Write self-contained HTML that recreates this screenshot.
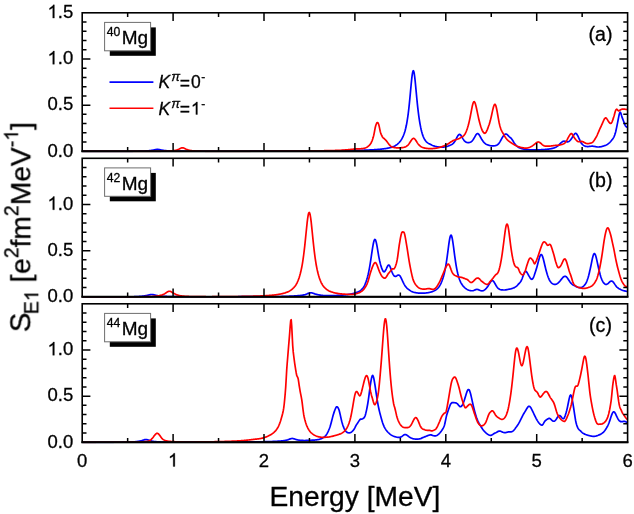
<!DOCTYPE html>
<html><head><meta charset="utf-8"><title>S_E1 strength</title>
<style>html,body{margin:0;padding:0;background:#fff;}body{width:634px;height:514px;overflow:hidden;position:relative;font-family:"Liberation Sans",sans-serif;}</style>
</head><body>
<svg width="634" height="514" viewBox="0 0 634 514" style="position:absolute;left:0;top:0">
<rect width="634" height="514" fill="#fff"/>
<clipPath id="cpa"><rect x="82.2" y="12.8" width="545.4" height="139.5"/></clipPath>
<g clip-path="url(#cpa)" fill="none" stroke-width="1.7" stroke-linejoin="round">
<path d="M82.2,151.30 L82.7,151.30 L83.2,151.30 L83.7,151.30 L84.2,151.30 L84.7,151.30 L85.2,151.30 L85.7,151.30 L86.2,151.30 L86.7,151.30 L87.2,151.30 L87.7,151.30 L88.2,151.30 L88.7,151.30 L89.2,151.30 L89.7,151.30 L90.2,151.30 L90.7,151.30 L91.2,151.30 L91.7,151.30 L92.2,151.30 L92.7,151.30 L93.2,151.30 L93.7,151.30 L94.2,151.30 L94.7,151.30 L95.2,151.30 L95.7,151.30 L96.2,151.30 L96.7,151.30 L97.2,151.30 L97.7,151.30 L98.2,151.30 L98.7,151.30 L99.2,151.30 L99.7,151.30 L100.2,151.30 L100.7,151.30 L101.2,151.30 L101.7,151.30 L102.2,151.30 L102.7,151.30 L103.2,151.30 L103.7,151.30 L104.2,151.30 L104.7,151.30 L105.2,151.30 L105.7,151.30 L106.2,151.30 L106.7,151.30 L107.2,151.30 L107.7,151.30 L108.2,151.30 L108.7,151.30 L109.2,151.30 L109.7,151.30 L110.2,151.30 L110.7,151.30 L111.2,151.30 L111.7,151.30 L112.2,151.30 L112.7,151.30 L113.2,151.30 L113.7,151.30 L114.2,151.30 L114.7,151.30 L115.2,151.30 L115.7,151.30 L116.2,151.30 L116.7,151.30 L117.2,151.30 L117.7,151.30 L118.2,151.30 L118.7,151.30 L119.2,151.30 L119.7,151.30 L120.2,151.30 L120.7,151.30 L121.2,151.30 L121.7,151.30 L122.2,151.30 L122.7,151.30 L123.2,151.30 L123.7,151.30 L124.2,151.30 L124.7,151.30 L125.2,151.30 L125.7,151.30 L126.2,151.30 L126.7,151.30 L127.2,151.30 L127.7,151.30 L128.2,151.30 L128.7,151.30 L129.2,151.30 L129.7,151.29 L130.2,151.29 L130.7,151.29 L131.2,151.29 L131.7,151.28 L132.2,151.28 L132.7,151.28 L133.2,151.27 L133.7,151.27 L134.2,151.27 L134.7,151.26 L135.2,151.26 L135.7,151.25 L136.2,151.25 L136.7,151.24 L137.2,151.24 L137.7,151.23 L138.2,151.23 L138.7,151.22 L139.2,151.21 L139.7,151.20 L140.2,151.20 L140.7,151.19 L141.2,151.17 L141.7,151.16 L142.2,151.14 L142.7,151.12 L143.2,151.10 L143.7,151.07 L144.2,151.05 L144.7,151.02 L145.2,150.99 L145.7,150.96 L146.2,150.93 L146.7,150.89 L147.2,150.86 L147.7,150.82 L148.2,150.78 L148.7,150.73 L149.2,150.68 L149.7,150.63 L150.2,150.58 L150.7,150.52 L151.2,150.45 L151.7,150.38 L152.2,150.29 L152.7,150.21 L153.2,150.11 L153.7,150.00 L154.2,149.90 L154.7,149.79 L155.2,149.68 L155.7,149.58 L156.2,149.49 L156.7,149.43 L157.2,149.40 L157.7,149.40 L158.2,149.43 L158.7,149.48 L159.2,149.57 L159.7,149.66 L160.2,149.77 L160.7,149.88 L161.2,149.99 L161.7,150.10 L162.2,150.19 L162.7,150.29 L163.2,150.37 L163.7,150.44 L164.2,150.51 L164.7,150.57 L165.2,150.62 L165.7,150.67 L166.2,150.72 L166.7,150.76 L167.2,150.79 L167.7,150.83 L168.2,150.86 L168.7,150.89 L169.2,150.91 L169.7,150.94 L170.2,150.96 L170.7,150.98 L171.2,151.00 L171.7,151.02 L172.2,151.04 L172.7,151.06 L173.2,151.07 L173.7,151.09 L174.2,151.10 L174.7,151.11 L175.2,151.12 L175.7,151.14 L176.2,151.15 L176.7,151.16 L177.2,151.16 L177.7,151.17 L178.2,151.18 L178.7,151.19 L179.2,151.19 L179.7,151.20 L180.2,151.20 L180.7,151.21 L181.2,151.21 L181.7,151.21 L182.2,151.21 L182.7,151.22 L183.2,151.22 L183.7,151.22 L184.2,151.23 L184.7,151.23 L185.2,151.23 L185.7,151.23 L186.2,151.23 L186.7,151.24 L187.2,151.24 L187.7,151.24 L188.2,151.24 L188.7,151.24 L189.2,151.24 L189.7,151.24 L190.2,151.24 L190.7,151.25 L191.2,151.25 L191.7,151.25 L192.2,151.25 L192.7,151.25 L193.2,151.25 L193.7,151.25 L194.2,151.25 L194.7,151.25 L195.2,151.25 L195.7,151.25 L196.2,151.25 L196.7,151.26 L197.2,151.26 L197.7,151.26 L198.2,151.26 L198.7,151.26 L199.2,151.26 L199.7,151.26 L200.2,151.26 L200.7,151.26 L201.2,151.26 L201.7,151.26 L202.2,151.26 L202.7,151.26 L203.2,151.26 L203.7,151.26 L204.2,151.26 L204.7,151.26 L205.2,151.26 L205.7,151.26 L206.2,151.26 L206.7,151.26 L207.2,151.26 L207.7,151.26 L208.2,151.26 L208.7,151.26 L209.2,151.26 L209.7,151.26 L210.2,151.26 L210.7,151.26 L211.2,151.26 L211.7,151.26 L212.2,151.26 L212.7,151.26 L213.2,151.26 L213.7,151.26 L214.2,151.26 L214.7,151.26 L215.2,151.26 L215.7,151.26 L216.2,151.26 L216.7,151.26 L217.2,151.26 L217.7,151.26 L218.2,151.26 L218.7,151.26 L219.2,151.26 L219.7,151.26 L220.2,151.26 L220.7,151.26 L221.2,151.26 L221.7,151.25 L222.2,151.25 L222.7,151.25 L223.2,151.25 L223.7,151.25 L224.2,151.25 L224.7,151.25 L225.2,151.25 L225.7,151.25 L226.2,151.25 L226.7,151.25 L227.2,151.25 L227.7,151.25 L228.2,151.25 L228.7,151.25 L229.2,151.25 L229.7,151.25 L230.2,151.25 L230.7,151.25 L231.2,151.25 L231.7,151.25 L232.2,151.25 L232.7,151.25 L233.2,151.25 L233.7,151.24 L234.2,151.24 L234.7,151.24 L235.2,151.24 L235.7,151.24 L236.2,151.24 L236.7,151.24 L237.2,151.24 L237.7,151.24 L238.2,151.24 L238.7,151.24 L239.2,151.24 L239.7,151.24 L240.2,151.24 L240.7,151.24 L241.2,151.24 L241.7,151.24 L242.2,151.23 L242.7,151.23 L243.2,151.23 L243.7,151.23 L244.2,151.23 L244.7,151.23 L245.2,151.23 L245.7,151.23 L246.2,151.23 L246.7,151.23 L247.2,151.23 L247.7,151.23 L248.2,151.23 L248.7,151.23 L249.2,151.23 L249.7,151.22 L250.2,151.22 L250.7,151.22 L251.2,151.22 L251.7,151.22 L252.2,151.22 L252.7,151.22 L253.2,151.22 L253.7,151.22 L254.2,151.22 L254.7,151.22 L255.2,151.22 L255.7,151.22 L256.2,151.21 L256.7,151.21 L257.2,151.21 L257.7,151.21 L258.2,151.21 L258.7,151.21 L259.2,151.21 L259.7,151.21 L260.2,151.21 L260.7,151.21 L261.2,151.21 L261.7,151.20 L262.2,151.20 L262.7,151.20 L263.2,151.20 L263.7,151.20 L264.2,151.20 L264.7,151.20 L265.2,151.20 L265.7,151.20 L266.2,151.20 L266.7,151.19 L267.2,151.19 L267.7,151.19 L268.2,151.19 L268.7,151.19 L269.2,151.19 L269.7,151.19 L270.2,151.19 L270.7,151.19 L271.2,151.19 L271.7,151.18 L272.2,151.18 L272.7,151.18 L273.2,151.18 L273.7,151.18 L274.2,151.18 L274.7,151.18 L275.2,151.18 L275.7,151.17 L276.2,151.17 L276.7,151.17 L277.2,151.17 L277.7,151.17 L278.2,151.17 L278.7,151.17 L279.2,151.17 L279.7,151.16 L280.2,151.16 L280.7,151.16 L281.2,151.16 L281.7,151.16 L282.2,151.16 L282.7,151.16 L283.2,151.16 L283.7,151.15 L284.2,151.15 L284.7,151.15 L285.2,151.15 L285.7,151.15 L286.2,151.15 L286.7,151.15 L287.2,151.14 L287.7,151.14 L288.2,151.14 L288.7,151.14 L289.2,151.14 L289.7,151.14 L290.2,151.13 L290.7,151.13 L291.2,151.13 L291.7,151.13 L292.2,151.13 L292.7,151.13 L293.2,151.12 L293.7,151.12 L294.2,151.12 L294.7,151.12 L295.2,151.12 L295.7,151.12 L296.2,151.11 L296.7,151.11 L297.2,151.11 L297.7,151.11 L298.2,151.11 L298.7,151.10 L299.2,151.10 L299.7,151.10 L300.2,151.10 L300.7,151.10 L301.2,151.10 L301.7,151.09 L302.2,151.09 L302.7,151.09 L303.2,151.09 L303.7,151.08 L304.2,151.08 L304.7,151.08 L305.2,151.08 L305.7,151.07 L306.2,151.07 L306.7,151.07 L307.2,151.07 L307.7,151.06 L308.2,151.06 L308.7,151.06 L309.2,151.06 L309.7,151.05 L310.2,151.05 L310.7,151.05 L311.2,151.04 L311.7,151.04 L312.2,151.04 L312.7,151.03 L313.2,151.03 L313.7,151.03 L314.2,151.02 L314.7,151.02 L315.2,151.02 L315.7,151.01 L316.2,151.01 L316.7,151.01 L317.2,151.00 L317.7,151.00 L318.2,150.99 L318.7,150.99 L319.2,150.99 L319.7,150.98 L320.2,150.98 L320.7,150.97 L321.2,150.97 L321.7,150.97 L322.2,150.96 L322.7,150.96 L323.2,150.95 L323.7,150.95 L324.2,150.94 L324.7,150.94 L325.2,150.93 L325.7,150.93 L326.2,150.92 L326.7,150.92 L327.2,150.91 L327.7,150.91 L328.2,150.90 L328.7,150.90 L329.2,150.89 L329.7,150.89 L330.2,150.88 L330.7,150.88 L331.2,150.87 L331.7,150.87 L332.2,150.86 L332.7,150.86 L333.2,150.85 L333.7,150.84 L334.2,150.84 L334.7,150.83 L335.2,150.83 L335.7,150.82 L336.2,150.81 L336.7,150.81 L337.2,150.80 L337.7,150.79 L338.2,150.79 L338.7,150.78 L339.2,150.77 L339.7,150.77 L340.2,150.76 L340.7,150.75 L341.2,150.75 L341.7,150.74 L342.2,150.73 L342.7,150.72 L343.2,150.72 L343.7,150.71 L344.2,150.70 L344.7,150.69 L345.2,150.68 L345.7,150.68 L346.2,150.67 L346.7,150.66 L347.2,150.65 L347.7,150.64 L348.2,150.63 L348.7,150.62 L349.2,150.62 L349.7,150.61 L350.2,150.60 L350.7,150.59 L351.2,150.58 L351.7,150.57 L352.2,150.56 L352.7,150.54 L353.2,150.53 L353.7,150.52 L354.2,150.51 L354.7,150.50 L355.2,150.49 L355.7,150.47 L356.2,150.46 L356.7,150.45 L357.2,150.43 L357.7,150.42 L358.2,150.41 L358.7,150.39 L359.2,150.38 L359.7,150.36 L360.2,150.35 L360.7,150.33 L361.2,150.31 L361.7,150.30 L362.2,150.28 L362.7,150.26 L363.2,150.25 L363.7,150.23 L364.2,150.21 L364.7,150.19 L365.2,150.17 L365.7,150.15 L366.2,150.13 L366.7,150.11 L367.2,150.09 L367.7,150.06 L368.2,150.04 L368.7,150.02 L369.2,149.99 L369.7,149.97 L370.2,149.94 L370.7,149.92 L371.2,149.89 L371.7,149.86 L372.2,149.84 L372.7,149.81 L373.2,149.78 L373.7,149.75 L374.2,149.71 L374.7,149.68 L375.2,149.65 L375.7,149.61 L376.2,149.57 L376.7,149.54 L377.2,149.50 L377.7,149.46 L378.2,149.42 L378.7,149.37 L379.2,149.33 L379.7,149.28 L380.2,149.23 L380.7,149.18 L381.2,149.13 L381.7,149.07 L382.2,149.02 L382.7,148.96 L383.2,148.90 L383.7,148.83 L384.2,148.77 L384.7,148.70 L385.2,148.62 L385.7,148.55 L386.2,148.47 L386.7,148.38 L387.2,148.29 L387.7,148.19 L388.2,148.09 L388.7,147.98 L389.2,147.87 L389.7,147.75 L390.2,147.62 L390.7,147.48 L391.2,147.33 L391.7,147.17 L392.2,147.00 L392.7,146.82 L393.2,146.62 L393.7,146.41 L394.2,146.18 L394.7,145.92 L395.2,145.65 L395.7,145.36 L396.2,145.04 L396.7,144.70 L397.2,144.33 L397.7,143.92 L398.2,143.49 L398.7,143.01 L399.2,142.49 L399.7,141.93 L400.2,141.31 L400.7,140.64 L401.2,139.89 L401.7,139.07 L402.2,138.16 L402.7,137.16 L403.2,136.04 L403.7,134.81 L404.2,133.45 L404.7,131.92 L405.2,130.21 L405.7,128.27 L406.2,126.06 L406.7,123.56 L407.2,120.70 L407.7,117.46 L408.2,113.79 L408.7,109.67 L409.2,105.10 L409.7,100.13 L410.2,94.84 L410.7,89.38 L411.2,84.00 L411.7,79.04 L412.2,74.92 L412.7,72.05 L413.2,70.75 L413.7,71.19 L414.2,73.31 L414.7,76.83 L415.2,81.39 L415.7,86.55 L416.2,91.95 L416.7,97.29 L417.2,102.37 L417.7,107.10 L418.2,111.40 L418.7,115.29 L419.2,118.81 L419.7,122.00 L420.2,124.86 L420.7,127.43 L421.2,129.72 L421.7,131.77 L422.2,133.57 L422.7,135.15 L423.2,136.51 L423.7,137.68 L424.2,138.68 L424.7,139.55 L425.2,140.31 L425.7,140.96 L426.2,141.53 L426.7,142.02 L427.2,142.45 L427.7,142.83 L428.2,143.17 L428.7,143.48 L429.2,143.76 L429.7,144.03 L430.2,144.29 L430.7,144.54 L431.2,144.80 L431.7,145.05 L432.2,145.28 L432.7,145.49 L433.2,145.68 L433.7,145.86 L434.2,146.03 L434.7,146.18 L435.2,146.33 L435.7,146.46 L436.2,146.58 L436.7,146.68 L437.2,146.78 L437.7,146.87 L438.2,146.95 L438.7,147.02 L439.2,147.07 L439.7,147.12 L440.2,147.16 L440.7,147.19 L441.2,147.21 L441.7,147.21 L442.2,147.20 L442.7,147.17 L443.2,147.13 L443.7,147.08 L444.2,147.01 L444.7,146.94 L445.2,146.85 L445.7,146.74 L446.2,146.63 L446.7,146.50 L447.2,146.36 L447.7,146.20 L448.2,146.03 L448.7,145.84 L449.2,145.63 L449.7,145.41 L450.2,145.20 L450.7,144.99 L451.2,144.77 L451.7,144.53 L452.2,144.24 L452.7,143.89 L453.2,143.46 L453.7,142.94 L454.2,142.30 L454.7,141.56 L455.2,140.73 L455.7,139.83 L456.2,138.88 L456.7,137.91 L457.2,136.95 L457.7,136.07 L458.2,135.32 L458.7,134.76 L459.2,134.44 L459.7,134.40 L460.2,134.64 L460.7,135.12 L461.2,135.80 L461.7,136.60 L462.2,137.46 L462.7,138.33 L463.2,139.15 L463.7,139.90 L464.2,140.55 L464.7,141.09 L465.2,141.53 L465.7,141.88 L466.2,142.15 L466.7,142.35 L467.2,142.48 L467.7,142.56 L468.2,142.60 L468.7,142.59 L469.2,142.54 L469.7,142.44 L470.2,142.27 L470.7,142.03 L471.2,141.72 L471.7,141.31 L472.2,140.81 L472.7,140.22 L473.2,139.53 L473.7,138.77 L474.2,137.93 L474.7,137.05 L475.2,136.16 L475.7,135.31 L476.2,134.56 L476.7,133.98 L477.2,133.63 L477.7,133.55 L478.2,133.76 L478.7,134.21 L479.2,134.87 L479.7,135.68 L480.2,136.57 L480.7,137.49 L481.2,138.40 L481.7,139.27 L482.2,140.09 L482.7,140.85 L483.2,141.53 L483.7,142.14 L484.2,142.67 L484.7,143.14 L485.2,143.55 L485.7,143.90 L486.2,144.20 L486.7,144.45 L487.2,144.66 L487.7,144.85 L488.2,145.02 L488.7,145.18 L489.2,145.34 L489.7,145.48 L490.2,145.61 L490.7,145.72 L491.2,145.81 L491.7,145.88 L492.2,145.93 L492.7,145.95 L493.2,145.94 L493.7,145.89 L494.2,145.83 L494.7,145.76 L495.2,145.67 L495.7,145.55 L496.2,145.39 L496.7,145.18 L497.2,144.90 L497.7,144.55 L498.2,144.10 L498.7,143.56 L499.2,142.91 L499.7,142.17 L500.2,141.35 L500.7,140.48 L501.2,139.57 L501.7,138.66 L502.2,137.77 L502.7,136.93 L503.2,136.14 L503.7,135.44 L504.2,134.85 L504.7,134.40 L505.2,134.12 L505.7,134.01 L506.2,134.07 L506.7,134.28 L507.2,134.62 L507.7,135.06 L508.2,135.57 L508.7,136.11 L509.2,136.61 L509.7,137.07 L510.2,137.50 L510.7,137.94 L511.2,138.42 L511.7,138.98 L512.2,139.65 L512.7,140.43 L513.2,141.27 L513.7,142.12 L514.2,142.93 L514.7,143.65 L515.2,144.25 L515.7,144.82 L516.2,145.36 L516.7,145.86 L517.2,146.32 L517.7,146.74 L518.2,147.10 L518.7,147.40 L519.2,147.64 L519.7,147.87 L520.2,148.07 L520.7,148.26 L521.2,148.44 L521.7,148.60 L522.2,148.75 L522.7,148.89 L523.2,149.01 L523.7,149.12 L524.2,149.23 L524.7,149.32 L525.2,149.40 L525.7,149.47 L526.2,149.54 L526.7,149.60 L527.2,149.65 L527.7,149.69 L528.2,149.73 L528.7,149.76 L529.2,149.79 L529.7,149.81 L530.2,149.83 L530.7,149.85 L531.2,149.86 L531.7,149.87 L532.2,149.88 L532.7,149.89 L533.2,149.89 L533.7,149.90 L534.2,149.90 L534.7,149.90 L535.2,149.90 L535.7,149.90 L536.2,149.89 L536.7,149.88 L537.2,149.87 L537.7,149.86 L538.2,149.85 L538.7,149.83 L539.2,149.81 L539.7,149.79 L540.2,149.77 L540.7,149.75 L541.2,149.72 L541.7,149.69 L542.2,149.66 L542.7,149.63 L543.2,149.60 L543.7,149.56 L544.2,149.52 L544.7,149.48 L545.2,149.44 L545.7,149.39 L546.2,149.35 L546.7,149.30 L547.2,149.24 L547.7,149.18 L548.2,149.12 L548.7,149.06 L549.2,148.99 L549.7,148.92 L550.2,148.84 L550.7,148.75 L551.2,148.65 L551.7,148.55 L552.2,148.43 L552.7,148.31 L553.2,148.17 L553.7,148.01 L554.2,147.84 L554.7,147.65 L555.2,147.44 L555.7,147.21 L556.2,146.95 L556.7,146.66 L557.2,146.33 L557.7,145.97 L558.2,145.58 L558.7,145.15 L559.2,144.70 L559.7,144.21 L560.2,143.71 L560.7,143.20 L561.2,142.71 L561.7,142.26 L562.2,141.87 L562.7,141.55 L563.2,141.34 L563.7,141.22 L564.2,141.20 L564.7,141.26 L565.2,141.37 L565.7,141.51 L566.2,141.65 L566.7,141.76 L567.2,141.82 L567.7,141.82 L568.2,141.73 L568.7,141.52 L569.2,141.20 L569.7,140.77 L570.2,140.24 L570.7,139.63 L571.2,138.96 L571.7,138.25 L572.2,137.50 L572.7,136.71 L573.2,135.91 L573.7,135.12 L574.2,134.40 L574.7,133.80 L575.2,133.41 L575.7,133.30 L576.2,133.52 L576.7,134.04 L577.2,134.80 L577.7,135.72 L578.2,136.73 L578.7,137.78 L579.2,138.82 L579.7,139.94 L580.2,141.06 L580.7,142.10 L581.2,142.96 L581.7,143.62 L582.2,144.19 L582.7,144.67 L583.2,145.08 L583.7,145.42 L584.2,145.71 L584.7,145.95 L585.2,146.16 L585.7,146.33 L586.2,146.45 L586.7,146.52 L587.2,146.55 L587.7,146.55 L588.2,146.53 L588.7,146.49 L589.2,146.44 L589.7,146.38 L590.2,146.32 L590.7,146.27 L591.2,146.23 L591.7,146.20 L592.2,146.19 L592.7,146.22 L593.2,146.26 L593.7,146.33 L594.2,146.41 L594.7,146.50 L595.2,146.59 L595.7,146.69 L596.2,146.78 L596.7,146.87 L597.2,146.94 L597.7,146.98 L598.2,147.01 L598.7,147.00 L599.2,146.97 L599.7,146.92 L600.2,146.85 L600.7,146.77 L601.2,146.67 L601.7,146.56 L602.2,146.44 L602.7,146.30 L603.2,146.15 L603.7,145.99 L604.2,145.81 L604.7,145.62 L605.2,145.42 L605.7,145.20 L606.2,144.96 L606.7,144.70 L607.2,144.41 L607.7,144.10 L608.2,143.76 L608.7,143.39 L609.2,142.97 L609.7,142.52 L610.2,142.01 L610.7,141.45 L611.2,140.83 L611.7,140.18 L612.2,139.55 L612.7,138.90 L613.2,138.17 L613.7,137.31 L614.2,136.30 L614.7,135.07 L615.2,133.60 L615.7,131.77 L616.2,129.56 L616.7,127.12 L617.2,124.59 L617.7,122.11 L618.2,119.49 L618.7,116.84 L619.2,114.52 L619.7,112.85 L620.2,112.18 L620.7,112.76 L621.2,114.19 L621.7,116.00 L622.2,117.64 L622.7,118.91 L623.2,120.22 L623.7,121.55 L624.2,122.89 L624.7,124.20 L625.2,125.35 L625.7,126.20 L626.2,126.76 L626.7,127.04 L627.2,127.08" stroke="#0000ff"/>
<path d="M82.2,151.30 L82.7,151.30 L83.2,151.30 L83.7,151.30 L84.2,151.30 L84.7,151.30 L85.2,151.30 L85.7,151.30 L86.2,151.30 L86.7,151.30 L87.2,151.30 L87.7,151.30 L88.2,151.30 L88.7,151.30 L89.2,151.30 L89.7,151.30 L90.2,151.30 L90.7,151.30 L91.2,151.30 L91.7,151.30 L92.2,151.30 L92.7,151.30 L93.2,151.30 L93.7,151.30 L94.2,151.30 L94.7,151.30 L95.2,151.30 L95.7,151.30 L96.2,151.30 L96.7,151.30 L97.2,151.30 L97.7,151.30 L98.2,151.30 L98.7,151.30 L99.2,151.30 L99.7,151.30 L100.2,151.30 L100.7,151.30 L101.2,151.30 L101.7,151.30 L102.2,151.30 L102.7,151.30 L103.2,151.30 L103.7,151.30 L104.2,151.30 L104.7,151.30 L105.2,151.30 L105.7,151.30 L106.2,151.30 L106.7,151.30 L107.2,151.30 L107.7,151.30 L108.2,151.30 L108.7,151.30 L109.2,151.30 L109.7,151.30 L110.2,151.30 L110.7,151.30 L111.2,151.30 L111.7,151.30 L112.2,151.30 L112.7,151.30 L113.2,151.30 L113.7,151.30 L114.2,151.30 L114.7,151.30 L115.2,151.30 L115.7,151.30 L116.2,151.30 L116.7,151.30 L117.2,151.30 L117.7,151.30 L118.2,151.30 L118.7,151.30 L119.2,151.30 L119.7,151.30 L120.2,151.30 L120.7,151.30 L121.2,151.30 L121.7,151.30 L122.2,151.30 L122.7,151.30 L123.2,151.30 L123.7,151.30 L124.2,151.30 L124.7,151.30 L125.2,151.30 L125.7,151.30 L126.2,151.30 L126.7,151.30 L127.2,151.30 L127.7,151.30 L128.2,151.30 L128.7,151.30 L129.2,151.30 L129.7,151.30 L130.2,151.30 L130.7,151.30 L131.2,151.30 L131.7,151.30 L132.2,151.30 L132.7,151.30 L133.2,151.30 L133.7,151.30 L134.2,151.30 L134.7,151.30 L135.2,151.30 L135.7,151.30 L136.2,151.30 L136.7,151.30 L137.2,151.30 L137.7,151.30 L138.2,151.30 L138.7,151.30 L139.2,151.30 L139.7,151.30 L140.2,151.30 L140.7,151.30 L141.2,151.30 L141.7,151.30 L142.2,151.30 L142.7,151.30 L143.2,151.30 L143.7,151.30 L144.2,151.30 L144.7,151.30 L145.2,151.30 L145.7,151.30 L146.2,151.30 L146.7,151.30 L147.2,151.30 L147.7,151.30 L148.2,151.30 L148.7,151.30 L149.2,151.30 L149.7,151.30 L150.2,151.30 L150.7,151.30 L151.2,151.30 L151.7,151.30 L152.2,151.30 L152.7,151.30 L153.2,151.30 L153.7,151.30 L154.2,151.30 L154.7,151.30 L155.2,151.30 L155.7,151.30 L156.2,151.30 L156.7,151.30 L157.2,151.30 L157.7,151.30 L158.2,151.30 L158.7,151.30 L159.2,151.29 L159.7,151.29 L160.2,151.28 L160.7,151.28 L161.2,151.27 L161.7,151.26 L162.2,151.25 L162.7,151.25 L163.2,151.24 L163.7,151.23 L164.2,151.22 L164.7,151.21 L165.2,151.20 L165.7,151.18 L166.2,151.17 L166.7,151.15 L167.2,151.13 L167.7,151.11 L168.2,151.09 L168.7,151.06 L169.2,151.03 L169.7,151.00 L170.2,150.97 L170.7,150.93 L171.2,150.89 L171.7,150.85 L172.2,150.80 L172.7,150.74 L173.2,150.68 L173.7,150.62 L174.2,150.54 L174.7,150.46 L175.2,150.36 L175.7,150.25 L176.2,150.13 L176.7,149.98 L177.2,149.82 L177.7,149.64 L178.2,149.44 L178.7,149.22 L179.2,148.99 L179.7,148.74 L180.2,148.49 L180.7,148.26 L181.2,148.05 L181.7,147.90 L182.2,147.81 L182.7,147.81 L183.2,147.88 L183.7,148.03 L184.2,148.23 L184.7,148.46 L185.2,148.70 L185.7,148.95 L186.2,149.19 L186.7,149.41 L187.2,149.61 L187.7,149.79 L188.2,149.96 L188.7,150.10 L189.2,150.23 L189.7,150.34 L190.2,150.44 L190.7,150.52 L191.2,150.60 L191.7,150.67 L192.2,150.73 L192.7,150.79 L193.2,150.84 L193.7,150.88 L194.2,150.93 L194.7,150.96 L195.2,151.00 L195.7,151.03 L196.2,151.06 L196.7,151.08 L197.2,151.11 L197.7,151.13 L198.2,151.15 L198.7,151.16 L199.2,151.18 L199.7,151.19 L200.2,151.20 L200.7,151.21 L201.2,151.22 L201.7,151.23 L202.2,151.24 L202.7,151.25 L203.2,151.26 L203.7,151.26 L204.2,151.27 L204.7,151.27 L205.2,151.28 L205.7,151.28 L206.2,151.29 L206.7,151.29 L207.2,151.30 L207.7,151.30 L208.2,151.30 L208.7,151.30 L209.2,151.30 L209.7,151.30 L210.2,151.30 L210.7,151.30 L211.2,151.30 L211.7,151.30 L212.2,151.30 L212.7,151.30 L213.2,151.30 L213.7,151.30 L214.2,151.30 L214.7,151.30 L215.2,151.30 L215.7,151.30 L216.2,151.30 L216.7,151.30 L217.2,151.30 L217.7,151.30 L218.2,151.30 L218.7,151.30 L219.2,151.30 L219.7,151.30 L220.2,151.30 L220.7,151.30 L221.2,151.30 L221.7,151.30 L222.2,151.30 L222.7,151.30 L223.2,151.30 L223.7,151.30 L224.2,151.30 L224.7,151.30 L225.2,151.30 L225.7,151.30 L226.2,151.30 L226.7,151.30 L227.2,151.30 L227.7,151.30 L228.2,151.30 L228.7,151.30 L229.2,151.30 L229.7,151.30 L230.2,151.30 L230.7,151.30 L231.2,151.30 L231.7,151.30 L232.2,151.30 L232.7,151.30 L233.2,151.30 L233.7,151.30 L234.2,151.30 L234.7,151.30 L235.2,151.30 L235.7,151.30 L236.2,151.30 L236.7,151.30 L237.2,151.30 L237.7,151.30 L238.2,151.30 L238.7,151.30 L239.2,151.30 L239.7,151.30 L240.2,151.30 L240.7,151.30 L241.2,151.30 L241.7,151.30 L242.2,151.30 L242.7,151.30 L243.2,151.30 L243.7,151.30 L244.2,151.30 L244.7,151.29 L245.2,151.29 L245.7,151.29 L246.2,151.29 L246.7,151.29 L247.2,151.29 L247.7,151.29 L248.2,151.28 L248.7,151.28 L249.2,151.28 L249.7,151.28 L250.2,151.28 L250.7,151.27 L251.2,151.27 L251.7,151.27 L252.2,151.27 L252.7,151.27 L253.2,151.27 L253.7,151.26 L254.2,151.26 L254.7,151.26 L255.2,151.26 L255.7,151.26 L256.2,151.25 L256.7,151.25 L257.2,151.25 L257.7,151.25 L258.2,151.25 L258.7,151.24 L259.2,151.24 L259.7,151.24 L260.2,151.24 L260.7,151.24 L261.2,151.23 L261.7,151.23 L262.2,151.23 L262.7,151.23 L263.2,151.22 L263.7,151.22 L264.2,151.22 L264.7,151.22 L265.2,151.21 L265.7,151.21 L266.2,151.21 L266.7,151.21 L267.2,151.21 L267.7,151.20 L268.2,151.20 L268.7,151.20 L269.2,151.20 L269.7,151.19 L270.2,151.19 L270.7,151.19 L271.2,151.19 L271.7,151.18 L272.2,151.18 L272.7,151.18 L273.2,151.17 L273.7,151.17 L274.2,151.17 L274.7,151.17 L275.2,151.16 L275.7,151.16 L276.2,151.16 L276.7,151.16 L277.2,151.15 L277.7,151.15 L278.2,151.15 L278.7,151.14 L279.2,151.14 L279.7,151.14 L280.2,151.14 L280.7,151.13 L281.2,151.13 L281.7,151.13 L282.2,151.12 L282.7,151.12 L283.2,151.12 L283.7,151.11 L284.2,151.11 L284.7,151.11 L285.2,151.11 L285.7,151.10 L286.2,151.10 L286.7,151.10 L287.2,151.09 L287.7,151.09 L288.2,151.09 L288.7,151.08 L289.2,151.08 L289.7,151.08 L290.2,151.07 L290.7,151.07 L291.2,151.07 L291.7,151.06 L292.2,151.06 L292.7,151.06 L293.2,151.05 L293.7,151.05 L294.2,151.04 L294.7,151.04 L295.2,151.04 L295.7,151.03 L296.2,151.03 L296.7,151.03 L297.2,151.02 L297.7,151.02 L298.2,151.01 L298.7,151.01 L299.2,151.01 L299.7,151.00 L300.2,151.00 L300.7,150.99 L301.2,150.99 L301.7,150.99 L302.2,150.98 L302.7,150.98 L303.2,150.97 L303.7,150.97 L304.2,150.96 L304.7,150.96 L305.2,150.96 L305.7,150.95 L306.2,150.95 L306.7,150.94 L307.2,150.94 L307.7,150.93 L308.2,150.93 L308.7,150.92 L309.2,150.92 L309.7,150.91 L310.2,150.91 L310.7,150.90 L311.2,150.90 L311.7,150.89 L312.2,150.89 L312.7,150.88 L313.2,150.87 L313.7,150.87 L314.2,150.86 L314.7,150.86 L315.2,150.85 L315.7,150.84 L316.2,150.84 L316.7,150.83 L317.2,150.83 L317.7,150.82 L318.2,150.81 L318.7,150.80 L319.2,150.80 L319.7,150.79 L320.2,150.78 L320.7,150.78 L321.2,150.77 L321.7,150.76 L322.2,150.75 L322.7,150.74 L323.2,150.74 L323.7,150.73 L324.2,150.72 L324.7,150.71 L325.2,150.70 L325.7,150.69 L326.2,150.68 L326.7,150.67 L327.2,150.66 L327.7,150.65 L328.2,150.64 L328.7,150.63 L329.2,150.62 L329.7,150.61 L330.2,150.60 L330.7,150.58 L331.2,150.57 L331.7,150.56 L332.2,150.55 L332.7,150.53 L333.2,150.52 L333.7,150.51 L334.2,150.49 L334.7,150.48 L335.2,150.46 L335.7,150.45 L336.2,150.43 L336.7,150.42 L337.2,150.40 L337.7,150.38 L338.2,150.37 L338.7,150.35 L339.2,150.33 L339.7,150.31 L340.2,150.29 L340.7,150.27 L341.2,150.25 L341.7,150.22 L342.2,150.19 L342.7,150.16 L343.2,150.12 L343.7,150.09 L344.2,150.05 L344.7,150.01 L345.2,149.97 L345.7,149.93 L346.2,149.88 L346.7,149.84 L347.2,149.79 L347.7,149.75 L348.2,149.70 L348.7,149.65 L349.2,149.60 L349.7,149.55 L350.2,149.50 L350.7,149.45 L351.2,149.40 L351.7,149.35 L352.2,149.30 L352.7,149.24 L353.2,149.19 L353.7,149.14 L354.2,149.09 L354.7,149.03 L355.2,148.98 L355.7,148.93 L356.2,148.90 L356.7,148.87 L357.2,148.85 L357.7,148.84 L358.2,148.82 L358.7,148.81 L359.2,148.80 L359.7,148.79 L360.2,148.77 L360.7,148.75 L361.2,148.72 L361.7,148.68 L362.2,148.63 L362.7,148.56 L363.2,148.48 L363.7,148.37 L364.2,148.25 L364.7,148.10 L365.2,147.93 L365.7,147.74 L366.2,147.53 L366.7,147.28 L367.2,146.99 L367.7,146.67 L368.2,146.31 L368.7,145.90 L369.2,145.45 L369.7,144.92 L370.2,144.31 L370.7,143.58 L371.2,142.71 L371.7,141.70 L372.2,140.48 L372.7,139.03 L373.2,137.36 L373.7,135.50 L374.2,133.12 L374.7,130.39 L375.2,127.77 L375.7,125.76 L376.2,124.25 L376.7,123.15 L377.2,122.52 L377.7,122.54 L378.2,123.24 L378.7,124.54 L379.2,126.40 L379.7,128.82 L380.2,131.21 L380.7,133.01 L381.2,134.41 L381.7,135.51 L382.2,136.45 L382.7,137.27 L383.2,137.82 L383.7,138.24 L384.2,138.69 L384.7,139.21 L385.2,139.66 L385.7,140.10 L386.2,140.59 L386.7,141.19 L387.2,141.88 L387.7,142.61 L388.2,143.34 L388.7,144.02 L389.2,144.60 L389.7,145.12 L390.2,145.62 L390.7,146.09 L391.2,146.50 L391.7,146.82 L392.2,147.03 L392.7,147.19 L393.2,147.32 L393.7,147.44 L394.2,147.54 L394.7,147.62 L395.2,147.69 L395.7,147.75 L396.2,147.79 L396.7,147.82 L397.2,147.85 L397.7,147.86 L398.2,147.86 L398.7,147.85 L399.2,147.84 L399.7,147.82 L400.2,147.79 L400.7,147.75 L401.2,147.72 L401.7,147.67 L402.2,147.62 L402.7,147.55 L403.2,147.47 L403.7,147.37 L404.2,147.24 L404.7,147.09 L405.2,146.90 L405.7,146.67 L406.2,146.40 L406.7,146.08 L407.2,145.71 L407.7,145.29 L408.2,144.79 L408.7,144.22 L409.2,143.56 L409.7,142.83 L410.2,142.06 L410.7,141.27 L411.2,140.49 L411.7,139.78 L412.2,139.17 L412.7,138.70 L413.2,138.43 L413.7,138.38 L414.2,138.56 L414.7,138.96 L415.2,139.53 L415.7,140.22 L416.2,141.00 L416.7,141.81 L417.2,142.61 L417.7,143.37 L418.2,144.07 L418.7,144.68 L419.2,145.20 L419.7,145.66 L420.2,146.06 L420.7,146.42 L421.2,146.74 L421.7,147.01 L422.2,147.26 L422.7,147.47 L423.2,147.65 L423.7,147.81 L424.2,147.94 L424.7,148.06 L425.2,148.16 L425.7,148.25 L426.2,148.33 L426.7,148.40 L427.2,148.45 L427.7,148.50 L428.2,148.53 L428.7,148.56 L429.2,148.58 L429.7,148.59 L430.2,148.60 L430.7,148.60 L431.2,148.59 L431.7,148.57 L432.2,148.55 L432.7,148.53 L433.2,148.49 L433.7,148.45 L434.2,148.41 L434.7,148.36 L435.2,148.30 L435.7,148.24 L436.2,148.17 L436.7,148.09 L437.2,148.00 L437.7,147.90 L438.2,147.78 L438.7,147.66 L439.2,147.52 L439.7,147.38 L440.2,147.23 L440.7,147.07 L441.2,146.90 L441.7,146.73 L442.2,146.55 L442.7,146.36 L443.2,146.17 L443.7,145.97 L444.2,145.76 L444.7,145.56 L445.2,145.35 L445.7,145.13 L446.2,144.91 L446.7,144.66 L447.2,144.39 L447.7,144.09 L448.2,143.77 L448.7,143.44 L449.2,143.10 L449.7,142.75 L450.2,142.41 L450.7,142.07 L451.2,141.74 L451.7,141.43 L452.2,141.13 L452.7,140.86 L453.2,140.61 L453.7,140.40 L454.2,140.21 L454.7,140.04 L455.2,139.87 L455.7,139.71 L456.2,139.56 L456.7,139.40 L457.2,139.24 L457.7,139.07 L458.2,138.88 L458.7,138.67 L459.2,138.44 L459.7,138.18 L460.2,137.88 L460.7,137.61 L461.2,137.35 L461.7,137.08 L462.2,136.80 L462.7,136.48 L463.2,136.11 L463.7,135.66 L464.2,135.11 L464.7,134.44 L465.2,133.63 L465.7,132.67 L466.2,131.52 L466.7,130.25 L467.2,128.85 L467.7,127.30 L468.2,125.58 L468.7,123.68 L469.2,121.62 L469.7,119.40 L470.2,117.03 L470.7,114.44 L471.2,111.73 L471.7,109.05 L472.2,106.56 L472.7,104.44 L473.2,102.84 L473.7,101.88 L474.2,101.67 L474.7,102.21 L475.2,103.35 L475.7,104.98 L476.2,106.99 L476.7,109.24 L477.2,111.64 L477.7,114.07 L478.2,116.45 L478.7,118.72 L479.2,120.82 L479.7,122.79 L480.2,124.62 L480.7,126.30 L481.2,127.82 L481.7,129.16 L482.2,130.33 L482.7,131.32 L483.2,132.12 L483.7,132.72 L484.2,133.13 L484.7,133.32 L485.2,133.19 L485.7,132.73 L486.2,131.98 L486.7,131.01 L487.2,129.87 L487.7,128.59 L488.2,127.23 L488.7,125.83 L489.2,124.43 L489.7,122.87 L490.2,121.10 L490.7,119.14 L491.2,117.01 L491.7,114.75 L492.2,112.44 L492.7,110.17 L493.2,108.07 L493.7,106.29 L494.2,104.99 L494.7,104.30 L495.2,104.38 L495.7,105.30 L496.2,106.96 L496.7,109.22 L497.2,111.88 L497.7,114.75 L498.2,117.65 L498.7,120.44 L499.2,122.98 L499.7,125.17 L500.2,127.03 L500.7,128.58 L501.2,129.87 L501.7,130.95 L502.2,131.89 L502.7,132.75 L503.2,133.58 L503.7,134.44 L504.2,135.38 L504.7,136.27 L505.2,137.07 L505.7,137.80 L506.2,138.46 L506.7,139.07 L507.2,139.62 L507.7,140.13 L508.2,140.60 L508.7,141.03 L509.2,141.43 L509.7,141.79 L510.2,142.13 L510.7,142.47 L511.2,142.80 L511.7,143.13 L512.2,143.45 L512.7,143.77 L513.2,144.09 L513.7,144.39 L514.2,144.69 L514.7,144.98 L515.2,145.25 L515.7,145.51 L516.2,145.76 L516.7,145.99 L517.2,146.20 L517.7,146.40 L518.2,146.57 L518.7,146.73 L519.2,146.89 L519.7,147.04 L520.2,147.19 L520.7,147.33 L521.2,147.46 L521.7,147.58 L522.2,147.69 L522.7,147.79 L523.2,147.88 L523.7,147.95 L524.2,148.01 L524.7,148.06 L525.2,148.08 L525.7,148.09 L526.2,148.07 L526.7,148.03 L527.2,147.97 L527.7,147.88 L528.2,147.77 L528.7,147.63 L529.2,147.47 L529.7,147.28 L530.2,147.07 L530.7,146.84 L531.2,146.58 L531.7,146.29 L532.2,145.98 L532.7,145.65 L533.2,145.30 L533.7,144.93 L534.2,144.54 L534.7,144.13 L535.2,143.70 L535.7,143.28 L536.2,142.88 L536.7,142.52 L537.2,142.24 L537.7,142.05 L538.2,141.97 L538.7,142.02 L539.2,142.19 L539.7,142.46 L540.2,142.81 L540.7,143.22 L541.2,143.66 L541.7,144.11 L542.2,144.55 L542.7,144.96 L543.2,145.31 L543.7,145.61 L544.2,145.84 L544.7,146.00 L545.2,146.11 L545.7,146.18 L546.2,146.21 L546.7,146.22 L547.2,146.21 L547.7,146.20 L548.2,146.20 L548.7,146.20 L549.2,146.17 L549.7,146.13 L550.2,146.08 L550.7,146.02 L551.2,145.96 L551.7,145.88 L552.2,145.81 L552.7,145.73 L553.2,145.66 L553.7,145.59 L554.2,145.53 L554.7,145.48 L555.2,145.43 L555.7,145.39 L556.2,145.36 L556.7,145.32 L557.2,145.28 L557.7,145.24 L558.2,145.19 L558.7,145.13 L559.2,145.06 L559.7,144.97 L560.2,144.86 L560.7,144.73 L561.2,144.59 L561.7,144.46 L562.2,144.34 L562.7,144.19 L563.2,144.02 L563.7,143.79 L564.2,143.50 L564.7,143.12 L565.2,142.64 L565.7,142.05 L566.2,141.33 L566.7,140.50 L567.2,139.60 L567.7,138.65 L568.2,137.71 L568.7,136.80 L569.2,135.93 L569.7,135.10 L570.2,134.40 L570.7,133.88 L571.2,133.62 L571.7,133.69 L572.2,134.18 L572.7,134.96 L573.2,135.90 L573.7,136.83 L574.2,137.60 L574.7,138.24 L575.2,138.88 L575.7,139.48 L576.2,140.05 L576.7,140.56 L577.2,141.03 L577.7,141.42 L578.2,141.66 L578.7,141.77 L579.2,141.77 L579.7,141.71 L580.2,141.62 L580.7,141.52 L581.2,141.45 L581.7,141.44 L582.2,141.53 L582.7,141.68 L583.2,141.89 L583.7,142.12 L584.2,142.38 L584.7,142.64 L585.2,142.90 L585.7,143.14 L586.2,143.34 L586.7,143.49 L587.2,143.58 L587.7,143.60 L588.2,143.57 L588.7,143.53 L589.2,143.46 L589.7,143.37 L590.2,143.24 L590.7,143.09 L591.2,142.91 L591.7,142.68 L592.2,142.42 L592.7,142.09 L593.2,141.62 L593.7,141.03 L594.2,140.33 L594.7,139.56 L595.2,138.73 L595.7,137.86 L596.2,136.98 L596.7,136.05 L597.2,135.02 L597.7,133.90 L598.2,132.73 L598.7,131.55 L599.2,130.38 L599.7,129.26 L600.2,128.18 L600.7,127.12 L601.2,126.04 L601.7,124.94 L602.2,123.80 L602.7,122.63 L603.2,121.46 L603.7,120.33 L604.2,119.33 L604.7,118.55 L605.2,118.06 L605.7,117.89 L606.2,118.08 L606.7,118.60 L607.2,119.35 L607.7,120.19 L608.2,121.01 L608.7,121.72 L609.2,122.40 L609.7,122.96 L610.2,123.34 L610.7,123.47 L611.2,123.27 L611.7,122.59 L612.2,121.50 L612.7,120.14 L613.2,118.63 L613.7,117.10 L614.2,115.43 L614.7,113.58 L615.2,111.79 L615.7,110.32 L616.2,109.43 L616.7,109.22 L617.2,109.52 L617.7,110.06 L618.2,110.62 L618.7,110.94 L619.2,110.80 L619.7,110.37 L620.2,109.99 L620.7,109.67 L621.2,109.42 L621.7,109.26 L622.2,109.20 L622.7,109.20 L623.2,109.19 L623.7,109.18 L624.2,109.19 L624.7,109.21 L625.2,109.25 L625.7,109.31 L626.2,109.39 L626.7,109.50 L627.2,109.62" stroke="#ff0000"/>
</g>
<rect x="82.2" y="12.8" width="545.4" height="138.5" fill="none" stroke="#000" stroke-width="1.6"/>
<path d="M81.4,151.3H628.4" stroke="#000" stroke-width="1.9" fill="none"/>
<path d="M127.65,12.8v4.3 M127.65,151.3v-4.3 M173.10,12.8v8.2 M173.10,151.3v-8.2 M218.55,12.8v4.3 M218.55,151.3v-4.3 M264.00,12.8v8.2 M264.00,151.3v-8.2 M309.45,12.8v4.3 M309.45,151.3v-4.3 M354.90,12.8v8.2 M354.90,151.3v-8.2 M400.35,12.8v4.3 M400.35,151.3v-4.3 M445.80,12.8v8.2 M445.80,151.3v-8.2 M491.25,12.8v4.3 M491.25,151.3v-4.3 M536.70,12.8v8.2 M536.70,151.3v-8.2 M582.15,12.8v4.3 M582.15,151.3v-4.3 M82.2,142.07h4.3 M627.6,142.07h-4.3 M82.2,132.83h4.3 M627.6,132.83h-4.3 M82.2,123.60h4.3 M627.6,123.60h-4.3 M82.2,114.37h4.3 M627.6,114.37h-4.3 M82.2,105.14h8.2 M627.6,105.14h-8.2 M82.2,95.90h4.3 M627.6,95.90h-4.3 M82.2,86.67h4.3 M627.6,86.67h-4.3 M82.2,77.44h4.3 M627.6,77.44h-4.3 M82.2,68.20h4.3 M627.6,68.20h-4.3 M82.2,58.97h8.2 M627.6,58.97h-8.2 M82.2,49.74h4.3 M627.6,49.74h-4.3 M82.2,40.50h4.3 M627.6,40.50h-4.3 M82.2,31.27h4.3 M627.6,31.27h-4.3 M82.2,22.04h4.3 M627.6,22.04h-4.3" stroke="#000" stroke-width="1.5" fill="none"/>
<clipPath id="cpb"><rect x="82.2" y="158.3" width="545.4" height="139.5"/></clipPath>
<g clip-path="url(#cpb)" fill="none" stroke-width="1.7" stroke-linejoin="round">
<path d="M82.2,296.80 L82.7,296.80 L83.2,296.80 L83.7,296.80 L84.2,296.80 L84.7,296.80 L85.2,296.80 L85.7,296.80 L86.2,296.80 L86.7,296.80 L87.2,296.80 L87.7,296.80 L88.2,296.80 L88.7,296.80 L89.2,296.80 L89.7,296.80 L90.2,296.80 L90.7,296.80 L91.2,296.80 L91.7,296.80 L92.2,296.80 L92.7,296.80 L93.2,296.80 L93.7,296.80 L94.2,296.80 L94.7,296.80 L95.2,296.80 L95.7,296.80 L96.2,296.80 L96.7,296.80 L97.2,296.80 L97.7,296.80 L98.2,296.80 L98.7,296.80 L99.2,296.80 L99.7,296.80 L100.2,296.80 L100.7,296.80 L101.2,296.80 L101.7,296.80 L102.2,296.80 L102.7,296.80 L103.2,296.80 L103.7,296.80 L104.2,296.80 L104.7,296.80 L105.2,296.80 L105.7,296.80 L106.2,296.80 L106.7,296.80 L107.2,296.80 L107.7,296.80 L108.2,296.80 L108.7,296.80 L109.2,296.80 L109.7,296.80 L110.2,296.80 L110.7,296.80 L111.2,296.80 L111.7,296.80 L112.2,296.80 L112.7,296.80 L113.2,296.80 L113.7,296.80 L114.2,296.80 L114.7,296.80 L115.2,296.80 L115.7,296.80 L116.2,296.80 L116.7,296.80 L117.2,296.80 L117.7,296.80 L118.2,296.80 L118.7,296.80 L119.2,296.80 L119.7,296.80 L120.2,296.80 L120.7,296.80 L121.2,296.80 L121.7,296.80 L122.2,296.80 L122.7,296.80 L123.2,296.80 L123.7,296.80 L124.2,296.80 L124.7,296.80 L125.2,296.80 L125.7,296.80 L126.2,296.80 L126.7,296.80 L127.2,296.80 L127.7,296.80 L128.2,296.80 L128.7,296.79 L129.2,296.79 L129.7,296.78 L130.2,296.78 L130.7,296.77 L131.2,296.77 L131.7,296.76 L132.2,296.75 L132.7,296.74 L133.2,296.74 L133.7,296.73 L134.2,296.72 L134.7,296.71 L135.2,296.70 L135.7,296.68 L136.2,296.66 L136.7,296.64 L137.2,296.61 L137.7,296.58 L138.2,296.55 L138.7,296.51 L139.2,296.47 L139.7,296.43 L140.2,296.38 L140.7,296.34 L141.2,296.29 L141.7,296.23 L142.2,296.18 L142.7,296.12 L143.2,296.06 L143.7,295.99 L144.2,295.92 L144.7,295.85 L145.2,295.77 L145.7,295.68 L146.2,295.59 L146.7,295.49 L147.2,295.37 L147.7,295.25 L148.2,295.13 L148.7,295.00 L149.2,294.87 L149.7,294.74 L150.2,294.64 L150.7,294.55 L151.2,294.50 L151.7,294.48 L152.2,294.50 L152.7,294.56 L153.2,294.64 L153.7,294.75 L154.2,294.88 L154.7,295.01 L155.2,295.14 L155.7,295.26 L156.2,295.38 L156.7,295.49 L157.2,295.59 L157.7,295.68 L158.2,295.76 L158.7,295.84 L159.2,295.91 L159.7,295.97 L160.2,296.02 L160.7,296.07 L161.2,296.12 L161.7,296.16 L162.2,296.20 L162.7,296.24 L163.2,296.27 L163.7,296.31 L164.2,296.34 L164.7,296.37 L165.2,296.39 L165.7,296.42 L166.2,296.44 L166.7,296.47 L167.2,296.49 L167.7,296.51 L168.2,296.53 L168.7,296.55 L169.2,296.57 L169.7,296.58 L170.2,296.60 L170.7,296.62 L171.2,296.63 L171.7,296.64 L172.2,296.66 L172.7,296.67 L173.2,296.68 L173.7,296.68 L174.2,296.69 L174.7,296.70 L175.2,296.70 L175.7,296.71 L176.2,296.71 L176.7,296.71 L177.2,296.72 L177.7,296.72 L178.2,296.72 L178.7,296.73 L179.2,296.73 L179.7,296.73 L180.2,296.73 L180.7,296.74 L181.2,296.74 L181.7,296.74 L182.2,296.74 L182.7,296.74 L183.2,296.75 L183.7,296.75 L184.2,296.75 L184.7,296.75 L185.2,296.75 L185.7,296.75 L186.2,296.75 L186.7,296.75 L187.2,296.76 L187.7,296.76 L188.2,296.76 L188.7,296.76 L189.2,296.76 L189.7,296.76 L190.2,296.76 L190.7,296.76 L191.2,296.76 L191.7,296.76 L192.2,296.76 L192.7,296.76 L193.2,296.76 L193.7,296.77 L194.2,296.77 L194.7,296.77 L195.2,296.77 L195.7,296.77 L196.2,296.77 L196.7,296.77 L197.2,296.77 L197.7,296.77 L198.2,296.77 L198.7,296.77 L199.2,296.77 L199.7,296.77 L200.2,296.77 L200.7,296.77 L201.2,296.77 L201.7,296.77 L202.2,296.77 L202.7,296.77 L203.2,296.77 L203.7,296.77 L204.2,296.77 L204.7,296.77 L205.2,296.77 L205.7,296.77 L206.2,296.77 L206.7,296.77 L207.2,296.77 L207.7,296.77 L208.2,296.77 L208.7,296.77 L209.2,296.77 L209.7,296.77 L210.2,296.77 L210.7,296.77 L211.2,296.77 L211.7,296.76 L212.2,296.76 L212.7,296.76 L213.2,296.76 L213.7,296.76 L214.2,296.76 L214.7,296.76 L215.2,296.76 L215.7,296.76 L216.2,296.76 L216.7,296.76 L217.2,296.76 L217.7,296.76 L218.2,296.76 L218.7,296.76 L219.2,296.76 L219.7,296.76 L220.2,296.76 L220.7,296.76 L221.2,296.76 L221.7,296.75 L222.2,296.75 L222.7,296.75 L223.2,296.75 L223.7,296.75 L224.2,296.75 L224.7,296.75 L225.2,296.75 L225.7,296.75 L226.2,296.75 L226.7,296.75 L227.2,296.75 L227.7,296.75 L228.2,296.74 L228.7,296.74 L229.2,296.74 L229.7,296.74 L230.2,296.74 L230.7,296.74 L231.2,296.74 L231.7,296.74 L232.2,296.74 L232.7,296.74 L233.2,296.74 L233.7,296.73 L234.2,296.73 L234.7,296.73 L235.2,296.73 L235.7,296.73 L236.2,296.73 L236.7,296.73 L237.2,296.73 L237.7,296.73 L238.2,296.72 L238.7,296.72 L239.2,296.72 L239.7,296.72 L240.2,296.72 L240.7,296.72 L241.2,296.72 L241.7,296.72 L242.2,296.71 L242.7,296.71 L243.2,296.71 L243.7,296.71 L244.2,296.71 L244.7,296.71 L245.2,296.71 L245.7,296.70 L246.2,296.70 L246.7,296.70 L247.2,296.70 L247.7,296.70 L248.2,296.70 L248.7,296.69 L249.2,296.69 L249.7,296.69 L250.2,296.69 L250.7,296.69 L251.2,296.69 L251.7,296.68 L252.2,296.68 L252.7,296.68 L253.2,296.68 L253.7,296.68 L254.2,296.67 L254.7,296.67 L255.2,296.67 L255.7,296.67 L256.2,296.67 L256.7,296.66 L257.2,296.66 L257.7,296.66 L258.2,296.66 L258.7,296.66 L259.2,296.65 L259.7,296.65 L260.2,296.65 L260.7,296.65 L261.2,296.64 L261.7,296.64 L262.2,296.64 L262.7,296.64 L263.2,296.63 L263.7,296.63 L264.2,296.63 L264.7,296.62 L265.2,296.62 L265.7,296.62 L266.2,296.62 L266.7,296.61 L267.2,296.61 L267.7,296.61 L268.2,296.60 L268.7,296.60 L269.2,296.60 L269.7,296.59 L270.2,296.59 L270.7,296.59 L271.2,296.58 L271.7,296.58 L272.2,296.57 L272.7,296.57 L273.2,296.57 L273.7,296.56 L274.2,296.56 L274.7,296.55 L275.2,296.55 L275.7,296.55 L276.2,296.54 L276.7,296.54 L277.2,296.53 L277.7,296.53 L278.2,296.52 L278.7,296.51 L279.2,296.51 L279.7,296.50 L280.2,296.50 L280.7,296.49 L281.2,296.48 L281.7,296.47 L282.2,296.46 L282.7,296.45 L283.2,296.44 L283.7,296.43 L284.2,296.41 L284.7,296.40 L285.2,296.38 L285.7,296.36 L286.2,296.35 L286.7,296.33 L287.2,296.31 L287.7,296.29 L288.2,296.27 L288.7,296.25 L289.2,296.22 L289.7,296.20 L290.2,296.18 L290.7,296.15 L291.2,296.13 L291.7,296.10 L292.2,296.08 L292.7,296.05 L293.2,296.02 L293.7,295.99 L294.2,295.96 L294.7,295.93 L295.2,295.90 L295.7,295.87 L296.2,295.83 L296.7,295.80 L297.2,295.76 L297.7,295.72 L298.2,295.68 L298.7,295.63 L299.2,295.58 L299.7,295.53 L300.2,295.48 L300.7,295.42 L301.2,295.36 L301.7,295.29 L302.2,295.22 L302.7,295.14 L303.2,295.05 L303.7,294.95 L304.2,294.84 L304.7,294.71 L305.2,294.57 L305.7,294.41 L306.2,294.23 L306.7,294.03 L307.2,293.83 L307.7,293.61 L308.2,293.40 L308.7,293.20 L309.2,293.02 L309.7,292.88 L310.2,292.79 L310.7,292.75 L311.2,292.77 L311.7,292.85 L312.2,292.98 L312.7,293.13 L313.2,293.30 L313.7,293.48 L314.2,293.66 L314.7,293.84 L315.2,294.00 L315.7,294.15 L316.2,294.30 L316.7,294.43 L317.2,294.55 L317.7,294.66 L318.2,294.77 L318.7,294.87 L319.2,294.96 L319.7,295.04 L320.2,295.13 L320.7,295.20 L321.2,295.27 L321.7,295.33 L322.2,295.39 L322.7,295.44 L323.2,295.49 L323.7,295.53 L324.2,295.56 L324.7,295.59 L325.2,295.61 L325.7,295.62 L326.2,295.64 L326.7,295.65 L327.2,295.65 L327.7,295.66 L328.2,295.66 L328.7,295.66 L329.2,295.66 L329.7,295.66 L330.2,295.66 L330.7,295.65 L331.2,295.64 L331.7,295.63 L332.2,295.62 L332.7,295.61 L333.2,295.60 L333.7,295.58 L334.2,295.57 L334.7,295.55 L335.2,295.53 L335.7,295.51 L336.2,295.49 L336.7,295.47 L337.2,295.45 L337.7,295.43 L338.2,295.40 L338.7,295.37 L339.2,295.35 L339.7,295.32 L340.2,295.29 L340.7,295.26 L341.2,295.22 L341.7,295.19 L342.2,295.15 L342.7,295.11 L343.2,295.07 L343.7,295.02 L344.2,294.98 L344.7,294.93 L345.2,294.88 L345.7,294.82 L346.2,294.76 L346.7,294.70 L347.2,294.64 L347.7,294.57 L348.2,294.50 L348.7,294.43 L349.2,294.35 L349.7,294.27 L350.2,294.18 L350.7,294.09 L351.2,293.99 L351.7,293.88 L352.2,293.77 L352.7,293.65 L353.2,293.53 L353.7,293.39 L354.2,293.25 L354.7,293.10 L355.2,292.93 L355.7,292.77 L356.2,292.60 L356.7,292.42 L357.2,292.24 L357.7,292.04 L358.2,291.82 L358.7,291.59 L359.2,291.33 L359.7,291.04 L360.2,290.71 L360.7,290.35 L361.2,289.94 L361.7,289.48 L362.2,288.97 L362.7,288.38 L363.2,287.73 L363.7,286.95 L364.2,286.07 L364.7,285.06 L365.2,283.92 L365.7,282.66 L366.2,281.27 L366.7,279.73 L367.2,278.04 L367.7,276.19 L368.2,274.16 L368.7,271.90 L369.2,269.40 L369.7,266.64 L370.2,263.65 L370.7,260.44 L371.2,257.07 L371.7,253.62 L372.2,250.26 L372.7,247.10 L373.2,244.28 L373.7,241.97 L374.2,240.33 L374.7,239.47 L375.2,239.48 L375.7,240.39 L376.2,242.12 L376.7,244.46 L377.2,247.22 L377.7,250.19 L378.2,253.19 L378.7,256.05 L379.2,258.68 L379.7,261.05 L380.2,263.15 L380.7,265.00 L381.2,266.63 L381.7,268.12 L382.2,269.43 L382.7,270.51 L383.2,271.30 L383.7,271.75 L384.2,271.80 L384.7,271.48 L385.2,270.88 L385.7,270.04 L386.2,269.02 L386.7,267.91 L387.2,266.82 L387.7,265.87 L388.2,265.22 L388.7,264.99 L389.2,265.24 L389.7,265.94 L390.2,267.01 L390.7,268.34 L391.2,269.78 L391.7,271.20 L392.2,272.51 L392.7,273.66 L393.2,274.62 L393.7,275.38 L394.2,275.93 L394.7,276.26 L395.2,276.39 L395.7,276.35 L396.2,276.17 L396.7,275.89 L397.2,275.56 L397.7,275.26 L398.2,275.05 L398.7,275.01 L399.2,275.18 L399.7,275.58 L400.2,276.22 L400.7,277.06 L401.2,278.05 L401.7,279.13 L402.2,280.25 L402.7,281.35 L403.2,282.42 L403.7,283.42 L404.2,284.34 L404.7,285.18 L405.2,285.94 L405.7,286.63 L406.2,287.25 L406.7,287.80 L407.2,288.30 L407.7,288.75 L408.2,289.16 L408.7,289.54 L409.2,289.90 L409.7,290.25 L410.2,290.57 L410.7,290.87 L411.2,291.15 L411.7,291.41 L412.2,291.65 L412.7,291.86 L413.2,292.05 L413.7,292.21 L414.2,292.35 L414.7,292.47 L415.2,292.58 L415.7,292.68 L416.2,292.77 L416.7,292.85 L417.2,292.92 L417.7,292.98 L418.2,293.03 L418.7,293.08 L419.2,293.11 L419.7,293.15 L420.2,293.17 L420.7,293.19 L421.2,293.20 L421.7,293.20 L422.2,293.20 L422.7,293.19 L423.2,293.18 L423.7,293.16 L424.2,293.13 L424.7,293.10 L425.2,293.06 L425.7,293.01 L426.2,292.96 L426.7,292.90 L427.2,292.83 L427.7,292.76 L428.2,292.67 L428.7,292.58 L429.2,292.48 L429.7,292.37 L430.2,292.25 L430.7,292.12 L431.2,291.98 L431.7,291.82 L432.2,291.66 L432.7,291.47 L433.2,291.27 L433.7,291.05 L434.2,290.81 L434.7,290.55 L435.2,290.26 L435.7,289.94 L436.2,289.59 L436.7,289.20 L437.2,288.78 L437.7,288.31 L438.2,287.78 L438.7,287.17 L439.2,286.48 L439.7,285.69 L440.2,284.81 L440.7,283.84 L441.2,282.77 L441.7,281.60 L442.2,280.31 L442.7,278.91 L443.2,277.36 L443.7,275.64 L444.2,273.70 L444.7,271.53 L445.2,269.10 L445.7,266.39 L446.2,263.39 L446.7,260.10 L447.2,256.55 L447.7,252.81 L448.2,248.99 L448.7,245.23 L449.2,241.73 L449.7,238.74 L450.2,236.52 L450.7,235.29 L451.2,235.17 L451.7,236.18 L452.2,238.22 L452.7,241.08 L453.2,244.50 L453.7,248.23 L454.2,252.06 L454.7,255.82 L455.2,259.41 L455.7,262.75 L456.2,265.81 L456.7,268.58 L457.2,271.08 L457.7,273.30 L458.2,275.29 L458.7,277.04 L459.2,278.60 L459.7,279.97 L460.2,281.19 L460.7,282.27 L461.2,283.23 L461.7,284.08 L462.2,284.84 L462.7,285.52 L463.2,286.14 L463.7,286.69 L464.2,287.20 L464.7,287.66 L465.2,288.08 L465.7,288.46 L466.2,288.81 L466.7,289.13 L467.2,289.42 L467.7,289.68 L468.2,289.92 L468.7,290.12 L469.2,290.30 L469.7,290.45 L470.2,290.58 L470.7,290.67 L471.2,290.73 L471.7,290.77 L472.2,290.77 L472.7,290.73 L473.2,290.67 L473.7,290.53 L474.2,290.33 L474.7,290.10 L475.2,289.86 L475.7,289.65 L476.2,289.49 L476.7,289.40 L477.2,289.42 L477.7,289.51 L478.2,289.66 L478.7,289.86 L479.2,290.07 L479.7,290.29 L480.2,290.49 L480.7,290.65 L481.2,290.77 L481.7,290.84 L482.2,290.85 L482.7,290.78 L483.2,290.63 L483.7,290.41 L484.2,290.13 L484.7,289.78 L485.2,289.37 L485.7,288.90 L486.2,288.37 L486.7,287.78 L487.2,287.14 L487.7,286.44 L488.2,285.70 L488.7,284.91 L489.2,284.08 L489.7,283.25 L490.2,282.46 L490.7,281.74 L491.2,281.15 L491.7,280.74 L492.2,280.55 L492.7,280.63 L493.2,280.96 L493.7,281.51 L494.2,282.24 L494.7,283.09 L495.2,283.99 L495.7,284.90 L496.2,285.77 L496.7,286.57 L497.2,287.27 L497.7,287.86 L498.2,288.37 L498.7,288.78 L499.2,289.11 L499.7,289.37 L500.2,289.56 L500.7,289.71 L501.2,289.81 L501.7,289.88 L502.2,289.93 L502.7,289.96 L503.2,289.99 L503.7,290.01 L504.2,290.01 L504.7,289.98 L505.2,289.94 L505.7,289.87 L506.2,289.79 L506.7,289.70 L507.2,289.60 L507.7,289.50 L508.2,289.39 L508.7,289.28 L509.2,289.17 L509.7,289.06 L510.2,288.96 L510.7,288.85 L511.2,288.72 L511.7,288.59 L512.2,288.43 L512.7,288.27 L513.2,288.08 L513.7,287.87 L514.2,287.64 L514.7,287.38 L515.2,287.09 L515.7,286.76 L516.2,286.39 L516.7,285.98 L517.2,285.51 L517.7,284.99 L518.2,284.40 L518.7,283.83 L519.2,283.31 L519.7,282.80 L520.2,282.23 L520.7,281.56 L521.2,280.73 L521.7,279.71 L522.2,278.48 L522.7,277.08 L523.2,275.62 L523.7,274.21 L524.2,272.97 L524.7,272.01 L525.2,271.43 L525.7,271.28 L526.2,271.54 L526.7,272.08 L527.2,272.82 L527.7,273.69 L528.2,274.60 L528.7,275.50 L529.2,276.33 L529.7,277.17 L530.2,277.97 L530.7,278.65 L531.2,279.12 L531.7,279.33 L532.2,279.20 L532.7,278.70 L533.2,277.88 L533.7,276.80 L534.2,275.50 L534.7,274.06 L535.2,272.52 L535.7,270.94 L536.2,269.37 L536.7,267.71 L537.2,265.93 L537.7,264.07 L538.2,262.15 L538.7,260.25 L539.2,258.46 L539.7,256.89 L540.2,255.65 L540.7,254.85 L541.2,254.56 L541.7,254.82 L542.2,255.62 L542.7,256.90 L543.2,258.56 L543.7,260.49 L544.2,262.56 L544.7,264.69 L545.2,266.79 L545.7,268.83 L546.2,270.76 L546.7,272.58 L547.2,274.27 L547.7,275.82 L548.2,277.22 L548.7,278.47 L549.2,279.57 L549.7,280.51 L550.2,281.30 L550.7,281.98 L551.2,282.56 L551.7,283.05 L552.2,283.45 L552.7,283.78 L553.2,284.04 L553.7,284.22 L554.2,284.34 L554.7,284.40 L555.2,284.38 L555.7,284.30 L556.2,284.14 L556.7,283.91 L557.2,283.62 L557.7,283.27 L558.2,282.86 L558.7,282.40 L559.2,281.89 L559.7,281.34 L560.2,280.76 L560.7,280.15 L561.2,279.52 L561.7,278.89 L562.2,278.27 L562.7,277.69 L563.2,277.17 L563.7,276.75 L564.2,276.45 L564.7,276.28 L565.2,276.26 L565.7,276.41 L566.2,276.72 L566.7,277.19 L567.2,277.78 L567.7,278.47 L568.2,279.23 L568.7,280.01 L569.2,280.80 L569.7,281.56 L570.2,282.28 L570.7,282.91 L571.2,283.47 L571.7,283.95 L572.2,284.36 L572.7,284.71 L573.2,285.03 L573.7,285.31 L574.2,285.58 L574.7,285.84 L575.2,286.11 L575.7,286.37 L576.2,286.62 L576.7,286.85 L577.2,287.06 L577.7,287.24 L578.2,287.39 L578.7,287.51 L579.2,287.59 L579.7,287.63 L580.2,287.62 L580.7,287.56 L581.2,287.43 L581.7,287.25 L582.2,287.02 L582.7,286.73 L583.2,286.39 L583.7,285.98 L584.2,285.49 L584.7,284.93 L585.2,284.27 L585.7,283.51 L586.2,282.63 L586.7,281.56 L587.2,280.29 L587.7,278.84 L588.2,277.20 L588.7,275.40 L589.2,273.43 L589.7,271.32 L590.2,269.10 L590.7,266.75 L591.2,264.31 L591.7,261.85 L592.2,259.45 L592.7,257.27 L593.2,255.45 L593.7,254.16 L594.2,253.52 L594.7,253.60 L595.2,254.36 L595.7,255.71 L596.2,257.53 L596.7,259.65 L597.2,261.94 L597.7,264.27 L598.2,266.55 L598.7,268.74 L599.2,270.82 L599.7,272.82 L600.2,274.70 L600.7,276.42 L601.2,277.97 L601.7,279.31 L602.2,280.42 L602.7,281.38 L603.2,282.20 L603.7,282.89 L604.2,283.46 L604.7,283.89 L605.2,284.20 L605.7,284.38 L606.2,284.42 L606.7,284.31 L607.2,284.07 L607.7,283.73 L608.2,283.32 L608.7,282.86 L609.2,282.39 L609.7,281.93 L610.2,281.53 L610.7,281.22 L611.2,281.03 L611.7,281.01 L612.2,281.18 L612.7,281.52 L613.2,282.03 L613.7,282.65 L614.2,283.37 L614.7,284.13 L615.2,284.89 L615.7,285.61 L616.2,286.25 L616.7,286.81 L617.2,287.30 L617.7,287.72 L618.2,288.09 L618.7,288.41 L619.2,288.70 L619.7,288.97 L620.2,289.24 L620.7,289.51 L621.2,289.76 L621.7,289.99 L622.2,290.19 L622.7,290.38 L623.2,290.54 L623.7,290.69 L624.2,290.83 L624.7,290.95 L625.2,291.07 L625.7,291.17 L626.2,291.27 L626.7,291.36 L627.2,291.45" stroke="#0000ff"/>
<path d="M82.2,296.80 L82.7,296.80 L83.2,296.80 L83.7,296.80 L84.2,296.80 L84.7,296.80 L85.2,296.80 L85.7,296.80 L86.2,296.80 L86.7,296.80 L87.2,296.80 L87.7,296.80 L88.2,296.80 L88.7,296.80 L89.2,296.80 L89.7,296.80 L90.2,296.80 L90.7,296.80 L91.2,296.80 L91.7,296.80 L92.2,296.80 L92.7,296.80 L93.2,296.80 L93.7,296.80 L94.2,296.80 L94.7,296.80 L95.2,296.80 L95.7,296.80 L96.2,296.80 L96.7,296.80 L97.2,296.80 L97.7,296.80 L98.2,296.80 L98.7,296.80 L99.2,296.80 L99.7,296.80 L100.2,296.80 L100.7,296.80 L101.2,296.80 L101.7,296.80 L102.2,296.80 L102.7,296.80 L103.2,296.80 L103.7,296.80 L104.2,296.80 L104.7,296.80 L105.2,296.80 L105.7,296.80 L106.2,296.80 L106.7,296.80 L107.2,296.80 L107.7,296.80 L108.2,296.80 L108.7,296.80 L109.2,296.80 L109.7,296.80 L110.2,296.80 L110.7,296.80 L111.2,296.80 L111.7,296.80 L112.2,296.80 L112.7,296.80 L113.2,296.80 L113.7,296.80 L114.2,296.80 L114.7,296.80 L115.2,296.80 L115.7,296.80 L116.2,296.80 L116.7,296.80 L117.2,296.80 L117.7,296.80 L118.2,296.80 L118.7,296.80 L119.2,296.80 L119.7,296.80 L120.2,296.80 L120.7,296.80 L121.2,296.80 L121.7,296.80 L122.2,296.80 L122.7,296.80 L123.2,296.80 L123.7,296.80 L124.2,296.80 L124.7,296.80 L125.2,296.80 L125.7,296.80 L126.2,296.80 L126.7,296.80 L127.2,296.80 L127.7,296.80 L128.2,296.80 L128.7,296.80 L129.2,296.80 L129.7,296.80 L130.2,296.80 L130.7,296.80 L131.2,296.80 L131.7,296.80 L132.2,296.80 L132.7,296.80 L133.2,296.80 L133.7,296.80 L134.2,296.80 L134.7,296.80 L135.2,296.80 L135.7,296.80 L136.2,296.80 L136.7,296.80 L137.2,296.80 L137.7,296.80 L138.2,296.80 L138.7,296.80 L139.2,296.80 L139.7,296.79 L140.2,296.79 L140.7,296.78 L141.2,296.77 L141.7,296.77 L142.2,296.76 L142.7,296.75 L143.2,296.75 L143.7,296.74 L144.2,296.73 L144.7,296.72 L145.2,296.71 L145.7,296.71 L146.2,296.70 L146.7,296.69 L147.2,296.67 L147.7,296.66 L148.2,296.65 L148.7,296.64 L149.2,296.62 L149.7,296.61 L150.2,296.59 L150.7,296.57 L151.2,296.55 L151.7,296.53 L152.2,296.50 L152.7,296.46 L153.2,296.43 L153.7,296.39 L154.2,296.34 L154.7,296.29 L155.2,296.24 L155.7,296.19 L156.2,296.13 L156.7,296.07 L157.2,296.00 L157.7,295.92 L158.2,295.84 L158.7,295.76 L159.2,295.67 L159.7,295.56 L160.2,295.45 L160.7,295.33 L161.2,295.19 L161.7,295.03 L162.2,294.85 L162.7,294.66 L163.2,294.44 L163.7,294.21 L164.2,293.95 L164.7,293.68 L165.2,293.38 L165.7,293.07 L166.2,292.74 L166.7,292.41 L167.2,292.08 L167.7,291.78 L168.2,291.52 L168.7,291.34 L169.2,291.25 L169.7,291.27 L170.2,291.38 L170.7,291.58 L171.2,291.84 L171.7,292.14 L172.2,292.45 L172.7,292.77 L173.2,293.07 L173.7,293.35 L174.2,293.61 L174.7,293.86 L175.2,294.09 L175.7,294.31 L176.2,294.51 L176.7,294.70 L177.2,294.88 L177.7,295.04 L178.2,295.20 L178.7,295.34 L179.2,295.47 L179.7,295.60 L180.2,295.71 L180.7,295.80 L181.2,295.89 L181.7,295.96 L182.2,296.02 L182.7,296.07 L183.2,296.12 L183.7,296.17 L184.2,296.21 L184.7,296.25 L185.2,296.28 L185.7,296.31 L186.2,296.34 L186.7,296.37 L187.2,296.40 L187.7,296.42 L188.2,296.45 L188.7,296.47 L189.2,296.49 L189.7,296.51 L190.2,296.52 L190.7,296.54 L191.2,296.56 L191.7,296.57 L192.2,296.58 L192.7,296.59 L193.2,296.61 L193.7,296.62 L194.2,296.63 L194.7,296.64 L195.2,296.65 L195.7,296.65 L196.2,296.66 L196.7,296.67 L197.2,296.67 L197.7,296.68 L198.2,296.68 L198.7,296.69 L199.2,296.69 L199.7,296.70 L200.2,296.70 L200.7,296.70 L201.2,296.71 L201.7,296.71 L202.2,296.71 L202.7,296.71 L203.2,296.72 L203.7,296.72 L204.2,296.72 L204.7,296.72 L205.2,296.72 L205.7,296.72 L206.2,296.73 L206.7,296.73 L207.2,296.73 L207.7,296.73 L208.2,296.73 L208.7,296.73 L209.2,296.73 L209.7,296.73 L210.2,296.73 L210.7,296.73 L211.2,296.73 L211.7,296.73 L212.2,296.72 L212.7,296.72 L213.2,296.72 L213.7,296.72 L214.2,296.72 L214.7,296.72 L215.2,296.72 L215.7,296.71 L216.2,296.71 L216.7,296.71 L217.2,296.71 L217.7,296.71 L218.2,296.70 L218.7,296.70 L219.2,296.70 L219.7,296.70 L220.2,296.69 L220.7,296.69 L221.2,296.69 L221.7,296.69 L222.2,296.68 L222.7,296.68 L223.2,296.68 L223.7,296.67 L224.2,296.67 L224.7,296.67 L225.2,296.66 L225.7,296.66 L226.2,296.65 L226.7,296.65 L227.2,296.65 L227.7,296.64 L228.2,296.64 L228.7,296.63 L229.2,296.63 L229.7,296.62 L230.2,296.62 L230.7,296.61 L231.2,296.61 L231.7,296.60 L232.2,296.60 L232.7,296.59 L233.2,296.59 L233.7,296.58 L234.2,296.57 L234.7,296.57 L235.2,296.56 L235.7,296.55 L236.2,296.55 L236.7,296.54 L237.2,296.53 L237.7,296.53 L238.2,296.52 L238.7,296.51 L239.2,296.51 L239.7,296.50 L240.2,296.49 L240.7,296.48 L241.2,296.48 L241.7,296.47 L242.2,296.46 L242.7,296.45 L243.2,296.44 L243.7,296.43 L244.2,296.42 L244.7,296.41 L245.2,296.40 L245.7,296.39 L246.2,296.38 L246.7,296.37 L247.2,296.36 L247.7,296.35 L248.2,296.34 L248.7,296.33 L249.2,296.32 L249.7,296.31 L250.2,296.30 L250.7,296.28 L251.2,296.27 L251.7,296.26 L252.2,296.24 L252.7,296.23 L253.2,296.22 L253.7,296.20 L254.2,296.19 L254.7,296.17 L255.2,296.16 L255.7,296.14 L256.2,296.13 L256.7,296.11 L257.2,296.09 L257.7,296.07 L258.2,296.06 L258.7,296.04 L259.2,296.02 L259.7,296.00 L260.2,295.98 L260.7,295.96 L261.2,295.94 L261.7,295.91 L262.2,295.89 L262.7,295.87 L263.2,295.84 L263.7,295.82 L264.2,295.79 L264.7,295.76 L265.2,295.73 L265.7,295.70 L266.2,295.67 L266.7,295.64 L267.2,295.61 L267.7,295.57 L268.2,295.54 L268.7,295.50 L269.2,295.46 L269.7,295.42 L270.2,295.38 L270.7,295.34 L271.2,295.30 L271.7,295.25 L272.2,295.20 L272.7,295.15 L273.2,295.10 L273.7,295.05 L274.2,294.99 L274.7,294.93 L275.2,294.87 L275.7,294.81 L276.2,294.74 L276.7,294.67 L277.2,294.60 L277.7,294.53 L278.2,294.45 L278.7,294.37 L279.2,294.28 L279.7,294.19 L280.2,294.10 L280.7,294.00 L281.2,293.89 L281.7,293.78 L282.2,293.67 L282.7,293.55 L283.2,293.42 L283.7,293.29 L284.2,293.14 L284.7,292.99 L285.2,292.84 L285.7,292.67 L286.2,292.49 L286.7,292.30 L287.2,292.10 L287.7,291.89 L288.2,291.66 L288.7,291.41 L289.2,291.15 L289.7,290.87 L290.2,290.57 L290.7,290.25 L291.2,289.91 L291.7,289.54 L292.2,289.14 L292.7,288.71 L293.2,288.24 L293.7,287.73 L294.2,287.18 L294.7,286.58 L295.2,285.93 L295.7,285.20 L296.2,284.39 L296.7,283.50 L297.2,282.51 L297.7,281.42 L298.2,280.21 L298.7,278.89 L299.2,277.43 L299.7,275.82 L300.2,274.04 L300.7,272.08 L301.2,269.90 L301.7,267.48 L302.2,264.78 L302.7,261.77 L303.2,258.43 L303.7,254.74 L304.2,250.70 L304.7,246.30 L305.2,241.59 L305.7,236.71 L306.2,231.75 L306.7,226.84 L307.2,222.19 L307.7,218.16 L308.2,215.03 L308.7,213.05 L309.2,212.40 L309.7,213.09 L310.2,215.06 L310.7,218.17 L311.2,222.19 L311.7,226.84 L312.2,231.76 L312.7,236.73 L313.2,241.60 L313.7,246.28 L314.2,250.66 L314.7,254.70 L315.2,258.39 L315.7,261.73 L316.2,264.75 L316.7,267.47 L317.2,269.90 L317.7,272.08 L318.2,274.05 L318.7,275.83 L319.2,277.44 L319.7,278.90 L320.2,280.23 L320.7,281.44 L321.2,282.53 L321.7,283.52 L322.2,284.41 L322.7,285.22 L323.2,285.94 L323.7,286.58 L324.2,287.16 L324.7,287.70 L325.2,288.19 L325.7,288.64 L326.2,289.05 L326.7,289.43 L327.2,289.78 L327.7,290.10 L328.2,290.40 L328.7,290.68 L329.2,290.94 L329.7,291.17 L330.2,291.40 L330.7,291.60 L331.2,291.80 L331.7,291.98 L332.2,292.15 L332.7,292.31 L333.2,292.46 L333.7,292.60 L334.2,292.74 L334.7,292.86 L335.2,292.98 L335.7,293.09 L336.2,293.19 L336.7,293.29 L337.2,293.38 L337.7,293.46 L338.2,293.54 L338.7,293.62 L339.2,293.69 L339.7,293.75 L340.2,293.81 L340.7,293.87 L341.2,293.92 L341.7,293.97 L342.2,294.01 L342.7,294.06 L343.2,294.09 L343.7,294.13 L344.2,294.16 L344.7,294.19 L345.2,294.21 L345.7,294.23 L346.2,294.26 L346.7,294.29 L347.2,294.32 L347.7,294.34 L348.2,294.37 L348.7,294.39 L349.2,294.40 L349.7,294.42 L350.2,294.42 L350.7,294.42 L351.2,294.42 L351.7,294.40 L352.2,294.38 L352.7,294.34 L353.2,294.29 L353.7,294.23 L354.2,294.15 L354.7,294.06 L355.2,293.96 L355.7,293.84 L356.2,293.71 L356.7,293.56 L357.2,293.41 L357.7,293.24 L358.2,293.06 L358.7,292.86 L359.2,292.64 L359.7,292.40 L360.2,292.14 L360.7,291.86 L361.2,291.55 L361.7,291.22 L362.2,290.85 L362.7,290.42 L363.2,289.93 L363.7,289.37 L364.2,288.75 L364.7,288.07 L365.2,287.31 L365.7,286.49 L366.2,285.59 L366.7,284.62 L367.2,283.55 L367.7,282.25 L368.2,280.71 L368.7,279.01 L369.2,277.22 L369.7,275.39 L370.2,273.60 L370.7,271.92 L371.2,270.42 L371.7,268.98 L372.2,267.60 L372.7,266.30 L373.2,265.12 L373.7,264.11 L374.2,263.32 L374.7,262.77 L375.2,262.57 L375.7,262.78 L376.2,263.38 L376.7,264.31 L377.2,265.50 L377.7,266.84 L378.2,268.25 L378.7,269.63 L379.2,270.89 L379.7,272.09 L380.2,273.21 L380.7,274.23 L381.2,275.14 L381.7,275.93 L382.2,276.60 L382.7,277.15 L383.2,277.57 L383.7,277.89 L384.2,278.09 L384.7,278.20 L385.2,278.09 L385.7,277.69 L386.2,277.07 L386.7,276.31 L387.2,275.46 L387.7,274.60 L388.2,273.80 L388.7,273.12 L389.2,272.58 L389.7,271.99 L390.2,271.34 L390.7,270.65 L391.2,269.91 L391.7,269.23 L392.2,268.94 L392.7,268.91 L393.2,268.97 L393.7,268.94 L394.2,268.65 L394.7,267.90 L395.2,266.82 L395.7,265.55 L396.2,264.01 L396.7,262.09 L397.2,259.70 L397.7,256.60 L398.2,252.89 L398.7,249.02 L399.2,245.44 L399.7,242.34 L400.2,239.39 L400.7,236.70 L401.2,234.40 L401.7,232.78 L402.2,232.05 L402.7,231.94 L403.2,232.05 L403.7,232.15 L404.2,232.76 L404.7,234.43 L405.2,236.82 L405.7,239.56 L406.2,242.52 L406.7,245.60 L407.2,248.73 L407.7,251.92 L408.2,255.14 L408.7,258.30 L409.2,261.35 L409.7,264.23 L410.2,266.90 L410.7,269.37 L411.2,271.80 L411.7,274.14 L412.2,276.32 L412.7,278.27 L413.2,279.92 L413.7,281.20 L414.2,282.22 L414.7,283.13 L415.2,283.94 L415.7,284.67 L416.2,285.32 L416.7,285.91 L417.2,286.44 L417.7,286.91 L418.2,287.33 L418.7,287.69 L419.2,288.00 L419.7,288.25 L420.2,288.47 L420.7,288.65 L421.2,288.79 L421.7,288.91 L422.2,289.01 L422.7,289.09 L423.2,289.14 L423.7,289.16 L424.2,289.15 L424.7,289.11 L425.2,289.06 L425.7,288.99 L426.2,288.91 L426.7,288.83 L427.2,288.75 L427.7,288.68 L428.2,288.63 L428.7,288.60 L429.2,288.61 L429.7,288.69 L430.2,288.80 L430.7,288.93 L431.2,289.07 L431.7,289.20 L432.2,289.30 L432.7,289.36 L433.2,289.36 L433.7,289.28 L434.2,289.10 L434.7,288.81 L435.2,288.42 L435.7,287.92 L436.2,287.34 L436.7,286.69 L437.2,285.96 L437.7,285.19 L438.2,284.37 L438.7,283.52 L439.2,282.64 L439.7,281.68 L440.2,280.63 L440.7,279.51 L441.2,278.33 L441.7,277.13 L442.2,275.91 L442.7,274.71 L443.2,273.53 L443.7,272.34 L444.2,271.13 L444.7,269.92 L445.2,268.73 L445.7,267.61 L446.2,266.57 L446.7,265.66 L447.2,264.91 L447.7,264.36 L448.2,264.09 L448.7,264.31 L449.2,264.97 L449.7,265.99 L450.2,267.25 L450.7,268.64 L451.2,270.04 L451.7,271.33 L452.2,272.40 L452.7,273.27 L453.2,273.96 L453.7,274.51 L454.2,274.94 L454.7,275.27 L455.2,275.53 L455.7,275.76 L456.2,276.01 L456.7,276.30 L457.2,276.59 L457.7,276.80 L458.2,276.95 L458.7,277.05 L459.2,277.11 L459.7,277.16 L460.2,277.19 L460.7,277.24 L461.2,277.31 L461.7,277.41 L462.2,277.57 L462.7,277.74 L463.2,277.93 L463.7,278.14 L464.2,278.34 L464.7,278.55 L465.2,278.75 L465.7,278.94 L466.2,279.11 L466.7,279.27 L467.2,279.47 L467.7,279.81 L468.2,280.24 L468.7,280.74 L469.2,281.25 L469.7,281.73 L470.2,282.13 L470.7,282.41 L471.2,282.53 L471.7,282.45 L472.2,282.16 L472.7,281.79 L473.2,281.34 L473.7,280.85 L474.2,280.33 L474.7,279.82 L475.2,279.33 L475.7,278.88 L476.2,278.51 L476.7,278.22 L477.2,278.05 L477.7,278.00 L478.2,278.11 L478.7,278.37 L479.2,278.75 L479.7,279.21 L480.2,279.73 L480.7,280.27 L481.2,280.79 L481.7,281.26 L482.2,281.65 L482.7,282.04 L483.2,282.42 L483.7,282.79 L484.2,283.14 L484.7,283.47 L485.2,283.76 L485.7,284.00 L486.2,284.20 L486.7,284.34 L487.2,284.41 L487.7,284.25 L488.2,283.89 L488.7,283.37 L489.2,282.76 L489.7,282.09 L490.2,281.43 L490.7,280.82 L491.2,280.30 L491.7,279.76 L492.2,279.17 L492.7,278.55 L493.2,277.90 L493.7,277.23 L494.2,276.56 L494.7,275.90 L495.2,275.25 L495.7,274.77 L496.2,274.39 L496.7,274.03 L497.2,273.59 L497.7,273.00 L498.2,272.14 L498.7,270.93 L499.2,269.30 L499.7,267.38 L500.2,265.22 L500.7,262.78 L501.2,260.07 L501.7,257.07 L502.2,253.79 L502.7,250.24 L503.2,246.47 L503.7,242.51 L504.2,238.48 L504.7,234.54 L505.2,230.92 L505.7,227.84 L506.2,225.55 L506.7,224.25 L507.2,224.06 L507.7,225.02 L508.2,227.14 L508.7,230.18 L509.2,233.84 L509.7,237.84 L510.2,241.91 L510.7,245.81 L511.2,249.39 L511.7,252.64 L512.2,255.57 L512.7,258.17 L513.2,260.45 L513.7,262.44 L514.2,264.13 L514.7,265.36 L515.2,266.18 L515.7,266.68 L516.2,266.98 L516.7,267.18 L517.2,267.40 L517.7,267.72 L518.2,268.28 L518.7,269.36 L519.2,270.71 L519.7,271.95 L520.2,272.79 L520.7,273.46 L521.2,274.04 L521.7,274.49 L522.2,274.76 L522.7,274.83 L523.2,274.65 L523.7,274.18 L524.2,273.38 L524.7,272.27 L525.2,270.93 L525.7,269.40 L526.2,267.77 L526.7,266.10 L527.2,264.50 L527.7,262.95 L528.2,261.45 L528.7,260.12 L529.2,259.07 L529.7,258.37 L530.2,258.07 L530.7,258.15 L531.2,258.51 L531.7,259.02 L532.2,259.58 L532.7,260.11 L533.2,261.10 L533.7,262.38 L534.2,263.45 L534.7,263.78 L535.2,263.12 L535.7,262.19 L536.2,261.10 L536.7,259.89 L537.2,258.59 L537.7,257.23 L538.2,255.84 L538.7,254.36 L539.2,252.82 L539.7,251.26 L540.2,249.74 L540.7,248.30 L541.2,246.90 L541.7,245.52 L542.2,244.25 L542.7,243.19 L543.2,242.41 L543.7,242.00 L544.2,241.91 L544.7,242.03 L545.2,242.35 L545.7,242.84 L546.2,243.47 L546.7,244.21 L547.2,244.98 L547.7,245.30 L548.2,245.22 L548.7,244.91 L549.2,244.57 L549.7,244.37 L550.2,244.50 L550.7,245.15 L551.2,246.39 L551.7,247.82 L552.2,249.35 L552.7,250.92 L553.2,252.49 L553.7,254.14 L554.2,256.02 L554.7,258.00 L555.2,259.96 L555.7,261.76 L556.2,263.30 L556.7,264.79 L557.2,266.14 L557.7,267.12 L558.2,267.54 L558.7,267.58 L559.2,267.40 L559.7,267.02 L560.2,266.46 L560.7,265.74 L561.2,264.87 L561.7,263.91 L562.2,262.85 L562.7,261.74 L563.2,260.68 L563.7,259.77 L564.2,259.15 L564.7,258.92 L565.2,259.14 L565.7,259.79 L566.2,260.85 L566.7,262.26 L567.2,263.96 L567.7,265.78 L568.2,267.58 L568.7,269.31 L569.2,270.93 L569.7,272.42 L570.2,273.79 L570.7,275.11 L571.2,276.65 L571.7,278.33 L572.2,280.02 L572.7,281.60 L573.2,282.94 L573.7,283.93 L574.2,284.53 L574.7,285.02 L575.2,285.45 L575.7,285.84 L576.2,286.18 L576.7,286.49 L577.2,286.76 L577.7,287.00 L578.2,287.22 L578.7,287.42 L579.2,287.60 L579.7,287.77 L580.2,287.92 L580.7,288.05 L581.2,288.17 L581.7,288.26 L582.2,288.34 L582.7,288.39 L583.2,288.41 L583.7,288.42 L584.2,288.40 L584.7,288.36 L585.2,288.30 L585.7,288.22 L586.2,288.12 L586.7,288.01 L587.2,287.87 L587.7,287.71 L588.2,287.54 L588.7,287.35 L589.2,287.18 L589.7,287.01 L590.2,286.82 L590.7,286.60 L591.2,286.35 L591.7,286.04 L592.2,285.66 L592.7,285.20 L593.2,284.66 L593.7,284.07 L594.2,283.42 L594.7,282.70 L595.2,281.91 L595.7,281.05 L596.2,280.10 L596.7,279.03 L597.2,277.68 L597.7,276.08 L598.2,274.29 L598.7,272.34 L599.2,270.28 L599.7,268.02 L600.2,265.53 L600.7,262.85 L601.2,260.00 L601.7,257.01 L602.2,253.85 L602.7,250.46 L603.2,246.96 L603.7,243.49 L604.2,240.20 L604.7,237.27 L605.2,234.70 L605.7,232.44 L606.2,230.46 L606.7,229.08 L607.2,228.25 L607.7,227.85 L608.2,228.07 L608.7,228.92 L609.2,230.21 L609.7,231.71 L610.2,233.30 L610.7,235.06 L611.2,237.03 L611.7,239.30 L612.2,241.65 L612.7,243.87 L613.2,246.07 L613.7,248.34 L614.2,250.82 L614.7,253.55 L615.2,256.23 L615.7,258.79 L616.2,261.24 L616.7,263.55 L617.2,265.72 L617.7,267.75 L618.2,269.65 L618.7,271.52 L619.2,273.36 L619.7,275.14 L620.2,276.81 L620.7,278.33 L621.2,279.68 L621.7,280.81 L622.2,281.81 L622.7,282.73 L623.2,283.57 L623.7,284.32 L624.2,284.98 L624.7,285.54 L625.2,286.00 L625.7,286.36 L626.2,286.64 L626.7,286.84 L627.2,286.96" stroke="#ff0000"/>
</g>
<rect x="82.2" y="158.3" width="545.4" height="138.5" fill="none" stroke="#000" stroke-width="1.6"/>
<path d="M81.4,296.8H628.4" stroke="#000" stroke-width="1.9" fill="none"/>
<path d="M127.65,158.3v4.3 M127.65,296.8v-4.3 M173.10,158.3v8.2 M173.10,296.8v-8.2 M218.55,158.3v4.3 M218.55,296.8v-4.3 M264.00,158.3v8.2 M264.00,296.8v-8.2 M309.45,158.3v4.3 M309.45,296.8v-4.3 M354.90,158.3v8.2 M354.90,296.8v-8.2 M400.35,158.3v4.3 M400.35,296.8v-4.3 M445.80,158.3v8.2 M445.80,296.8v-8.2 M491.25,158.3v4.3 M491.25,296.8v-4.3 M536.70,158.3v8.2 M536.70,296.8v-8.2 M582.15,158.3v4.3 M582.15,296.8v-4.3 M82.2,287.57h4.3 M627.6,287.57h-4.3 M82.2,278.33h4.3 M627.6,278.33h-4.3 M82.2,269.10h4.3 M627.6,269.10h-4.3 M82.2,259.87h4.3 M627.6,259.87h-4.3 M82.2,250.64h8.2 M627.6,250.64h-8.2 M82.2,241.40h4.3 M627.6,241.40h-4.3 M82.2,232.17h4.3 M627.6,232.17h-4.3 M82.2,222.94h4.3 M627.6,222.94h-4.3 M82.2,213.70h4.3 M627.6,213.70h-4.3 M82.2,204.47h8.2 M627.6,204.47h-8.2 M82.2,195.24h4.3 M627.6,195.24h-4.3 M82.2,186.00h4.3 M627.6,186.00h-4.3 M82.2,176.77h4.3 M627.6,176.77h-4.3 M82.2,167.54h4.3 M627.6,167.54h-4.3" stroke="#000" stroke-width="1.5" fill="none"/>
<clipPath id="cpc"><rect x="82.2" y="303.8" width="545.4" height="139.5"/></clipPath>
<g clip-path="url(#cpc)" fill="none" stroke-width="1.7" stroke-linejoin="round">
<path d="M82.2,442.30 L82.7,442.30 L83.2,442.30 L83.7,442.30 L84.2,442.30 L84.7,442.30 L85.2,442.30 L85.7,442.30 L86.2,442.30 L86.7,442.30 L87.2,442.30 L87.7,442.30 L88.2,442.30 L88.7,442.30 L89.2,442.30 L89.7,442.30 L90.2,442.30 L90.7,442.30 L91.2,442.30 L91.7,442.30 L92.2,442.30 L92.7,442.30 L93.2,442.30 L93.7,442.30 L94.2,442.30 L94.7,442.30 L95.2,442.30 L95.7,442.30 L96.2,442.30 L96.7,442.30 L97.2,442.30 L97.7,442.30 L98.2,442.30 L98.7,442.30 L99.2,442.30 L99.7,442.30 L100.2,442.30 L100.7,442.30 L101.2,442.30 L101.7,442.30 L102.2,442.30 L102.7,442.30 L103.2,442.30 L103.7,442.30 L104.2,442.30 L104.7,442.30 L105.2,442.30 L105.7,442.30 L106.2,442.30 L106.7,442.30 L107.2,442.30 L107.7,442.30 L108.2,442.29 L108.7,442.29 L109.2,442.29 L109.7,442.29 L110.2,442.29 L110.7,442.29 L111.2,442.29 L111.7,442.28 L112.2,442.28 L112.7,442.28 L113.2,442.28 L113.7,442.28 L114.2,442.27 L114.7,442.27 L115.2,442.27 L115.7,442.27 L116.2,442.27 L116.7,442.26 L117.2,442.26 L117.7,442.26 L118.2,442.25 L118.7,442.25 L119.2,442.25 L119.7,442.24 L120.2,442.24 L120.7,442.24 L121.2,442.23 L121.7,442.23 L122.2,442.22 L122.7,442.22 L123.2,442.21 L123.7,442.21 L124.2,442.20 L124.7,442.20 L125.2,442.19 L125.7,442.18 L126.2,442.18 L126.7,442.17 L127.2,442.16 L127.7,442.15 L128.2,442.14 L128.7,442.13 L129.2,442.12 L129.7,442.11 L130.2,442.09 L130.7,442.08 L131.2,442.05 L131.7,442.03 L132.2,442.00 L132.7,441.96 L133.2,441.92 L133.7,441.88 L134.2,441.83 L134.7,441.78 L135.2,441.73 L135.7,441.67 L136.2,441.61 L136.7,441.55 L137.2,441.48 L137.7,441.41 L138.2,441.33 L138.7,441.25 L139.2,441.16 L139.7,441.06 L140.2,440.96 L140.7,440.84 L141.2,440.72 L141.7,440.59 L142.2,440.44 L142.7,440.29 L143.2,440.13 L143.7,439.97 L144.2,439.82 L144.7,439.69 L145.2,439.60 L145.7,439.55 L146.2,439.55 L146.7,439.60 L147.2,439.70 L147.7,439.83 L148.2,439.99 L148.7,440.16 L149.2,440.33 L149.7,440.50 L150.2,440.66 L150.7,440.80 L151.2,440.93 L151.7,441.05 L152.2,441.16 L152.7,441.25 L153.2,441.33 L153.7,441.41 L154.2,441.47 L154.7,441.53 L155.2,441.59 L155.7,441.64 L156.2,441.69 L156.7,441.73 L157.2,441.77 L157.7,441.80 L158.2,441.84 L158.7,441.87 L159.2,441.90 L159.7,441.93 L160.2,441.95 L160.7,441.97 L161.2,441.99 L161.7,442.01 L162.2,442.03 L162.7,442.05 L163.2,442.06 L163.7,442.08 L164.2,442.09 L164.7,442.10 L165.2,442.10 L165.7,442.11 L166.2,442.12 L166.7,442.12 L167.2,442.13 L167.7,442.13 L168.2,442.14 L168.7,442.14 L169.2,442.14 L169.7,442.15 L170.2,442.15 L170.7,442.15 L171.2,442.16 L171.7,442.16 L172.2,442.16 L172.7,442.16 L173.2,442.17 L173.7,442.17 L174.2,442.17 L174.7,442.17 L175.2,442.17 L175.7,442.17 L176.2,442.18 L176.7,442.18 L177.2,442.18 L177.7,442.18 L178.2,442.18 L178.7,442.18 L179.2,442.18 L179.7,442.18 L180.2,442.18 L180.7,442.18 L181.2,442.18 L181.7,442.18 L182.2,442.18 L182.7,442.18 L183.2,442.18 L183.7,442.18 L184.2,442.18 L184.7,442.18 L185.2,442.18 L185.7,442.18 L186.2,442.18 L186.7,442.18 L187.2,442.18 L187.7,442.18 L188.2,442.18 L188.7,442.18 L189.2,442.18 L189.7,442.18 L190.2,442.18 L190.7,442.18 L191.2,442.18 L191.7,442.18 L192.2,442.18 L192.7,442.18 L193.2,442.18 L193.7,442.18 L194.2,442.17 L194.7,442.17 L195.2,442.17 L195.7,442.17 L196.2,442.17 L196.7,442.17 L197.2,442.17 L197.7,442.17 L198.2,442.17 L198.7,442.17 L199.2,442.17 L199.7,442.16 L200.2,442.16 L200.7,442.16 L201.2,442.16 L201.7,442.16 L202.2,442.16 L202.7,442.16 L203.2,442.16 L203.7,442.16 L204.2,442.15 L204.7,442.15 L205.2,442.15 L205.7,442.15 L206.2,442.15 L206.7,442.15 L207.2,442.15 L207.7,442.14 L208.2,442.14 L208.7,442.14 L209.2,442.14 L209.7,442.14 L210.2,442.14 L210.7,442.14 L211.2,442.13 L211.7,442.13 L212.2,442.13 L212.7,442.13 L213.2,442.13 L213.7,442.13 L214.2,442.12 L214.7,442.12 L215.2,442.12 L215.7,442.12 L216.2,442.12 L216.7,442.11 L217.2,442.11 L217.7,442.11 L218.2,442.11 L218.7,442.11 L219.2,442.10 L219.7,442.10 L220.2,442.10 L220.7,442.10 L221.2,442.10 L221.7,442.09 L222.2,442.09 L222.7,442.09 L223.2,442.09 L223.7,442.09 L224.2,442.08 L224.7,442.08 L225.2,442.08 L225.7,442.08 L226.2,442.07 L226.7,442.07 L227.2,442.07 L227.7,442.07 L228.2,442.06 L228.7,442.06 L229.2,442.06 L229.7,442.06 L230.2,442.05 L230.7,442.05 L231.2,442.05 L231.7,442.05 L232.2,442.04 L232.7,442.04 L233.2,442.04 L233.7,442.03 L234.2,442.03 L234.7,442.03 L235.2,442.03 L235.7,442.02 L236.2,442.02 L236.7,442.02 L237.2,442.01 L237.7,442.01 L238.2,442.01 L238.7,442.00 L239.2,442.00 L239.7,442.00 L240.2,441.99 L240.7,441.99 L241.2,441.99 L241.7,441.98 L242.2,441.98 L242.7,441.97 L243.2,441.97 L243.7,441.97 L244.2,441.96 L244.7,441.96 L245.2,441.95 L245.7,441.95 L246.2,441.95 L246.7,441.94 L247.2,441.94 L247.7,441.93 L248.2,441.93 L248.7,441.93 L249.2,441.92 L249.7,441.92 L250.2,441.91 L250.7,441.91 L251.2,441.90 L251.7,441.90 L252.2,441.89 L252.7,441.89 L253.2,441.88 L253.7,441.88 L254.2,441.87 L254.7,441.87 L255.2,441.86 L255.7,441.85 L256.2,441.85 L256.7,441.84 L257.2,441.84 L257.7,441.83 L258.2,441.82 L258.7,441.82 L259.2,441.81 L259.7,441.80 L260.2,441.80 L260.7,441.79 L261.2,441.78 L261.7,441.77 L262.2,441.76 L262.7,441.75 L263.2,441.74 L263.7,441.73 L264.2,441.72 L264.7,441.71 L265.2,441.70 L265.7,441.69 L266.2,441.67 L266.7,441.66 L267.2,441.65 L267.7,441.63 L268.2,441.62 L268.7,441.60 L269.2,441.58 L269.7,441.57 L270.2,441.55 L270.7,441.53 L271.2,441.52 L271.7,441.50 L272.2,441.48 L272.7,441.46 L273.2,441.44 L273.7,441.42 L274.2,441.40 L274.7,441.37 L275.2,441.35 L275.7,441.33 L276.2,441.30 L276.7,441.28 L277.2,441.25 L277.7,441.22 L278.2,441.19 L278.7,441.16 L279.2,441.13 L279.7,441.09 L280.2,441.06 L280.7,441.02 L281.2,440.97 L281.7,440.93 L282.2,440.88 L282.7,440.82 L283.2,440.77 L283.7,440.70 L284.2,440.63 L284.7,440.55 L285.2,440.46 L285.7,440.37 L286.2,440.26 L286.7,440.13 L287.2,439.99 L287.7,439.84 L288.2,439.67 L288.7,439.49 L289.2,439.29 L289.7,439.10 L290.2,438.90 L290.7,438.73 L291.2,438.59 L291.7,438.50 L292.2,438.46 L292.7,438.49 L293.2,438.57 L293.7,438.70 L294.2,438.86 L294.7,439.03 L295.2,439.21 L295.7,439.38 L296.2,439.54 L296.7,439.69 L297.2,439.82 L297.7,439.94 L298.2,440.04 L298.7,440.13 L299.2,440.20 L299.7,440.27 L300.2,440.32 L300.7,440.36 L301.2,440.40 L301.7,440.43 L302.2,440.45 L302.7,440.46 L303.2,440.47 L303.7,440.48 L304.2,440.48 L304.7,440.48 L305.2,440.48 L305.7,440.47 L306.2,440.46 L306.7,440.44 L307.2,440.43 L307.7,440.41 L308.2,440.39 L308.7,440.37 L309.2,440.34 L309.7,440.32 L310.2,440.29 L310.7,440.26 L311.2,440.24 L311.7,440.22 L312.2,440.19 L312.7,440.17 L313.2,440.15 L313.7,440.12 L314.2,440.09 L314.7,440.06 L315.2,440.02 L315.7,439.97 L316.2,439.92 L316.7,439.85 L317.2,439.78 L317.7,439.69 L318.2,439.59 L318.7,439.48 L319.2,439.35 L319.7,439.20 L320.2,439.03 L320.7,438.85 L321.2,438.65 L321.7,438.43 L322.2,438.18 L322.7,437.92 L323.2,437.63 L323.7,437.30 L324.2,436.94 L324.7,436.55 L325.2,436.11 L325.7,435.57 L326.2,434.93 L326.7,434.18 L327.2,433.33 L327.7,432.38 L328.2,431.35 L328.7,430.22 L329.2,429.01 L329.7,427.69 L330.2,426.19 L330.7,424.52 L331.2,422.71 L331.7,420.81 L332.2,418.85 L332.7,416.89 L333.2,415.03 L333.7,413.38 L334.2,411.89 L334.7,410.52 L335.2,409.27 L335.7,408.12 L336.2,407.18 L336.7,406.73 L337.2,406.80 L337.7,407.35 L338.2,408.05 L338.7,409.03 L339.2,410.50 L339.7,412.46 L340.2,414.65 L340.7,416.93 L341.2,419.15 L341.7,421.23 L342.2,423.07 L342.7,424.66 L343.2,426.10 L343.7,427.39 L344.2,428.54 L344.7,429.54 L345.2,430.39 L345.7,431.10 L346.2,431.66 L346.7,432.09 L347.2,432.41 L347.7,432.62 L348.2,432.75 L348.7,432.81 L349.2,432.82 L349.7,432.78 L350.2,432.66 L350.7,432.46 L351.2,432.18 L351.7,431.84 L352.2,431.43 L352.7,430.95 L353.2,430.43 L353.7,429.81 L354.2,429.02 L354.7,428.09 L355.2,427.09 L355.7,426.09 L356.2,425.15 L356.7,424.34 L357.2,423.64 L357.7,422.90 L358.2,422.14 L358.7,421.38 L359.2,420.63 L359.7,419.90 L360.2,419.37 L360.7,419.14 L361.2,419.09 L361.7,419.09 L362.2,419.03 L362.7,418.78 L363.2,418.38 L363.7,418.02 L364.2,417.53 L364.7,416.74 L365.2,415.47 L365.7,413.67 L366.2,411.61 L366.7,409.31 L367.2,406.76 L367.7,403.98 L368.2,400.90 L368.7,397.37 L369.2,393.55 L369.7,389.68 L370.2,386.00 L370.7,382.74 L371.2,379.82 L371.7,377.43 L372.2,375.88 L372.7,375.40 L373.2,376.15 L373.7,377.95 L374.2,380.49 L374.7,383.40 L375.2,386.49 L375.7,389.83 L376.2,393.26 L376.7,396.64 L377.2,399.87 L377.7,402.86 L378.2,405.57 L378.7,408.03 L379.2,410.27 L379.7,412.34 L380.2,414.28 L380.7,416.13 L381.2,417.95 L381.7,419.72 L382.2,421.40 L382.7,422.98 L383.2,424.42 L383.7,425.71 L384.2,426.80 L384.7,427.75 L385.2,428.61 L385.7,429.41 L386.2,430.14 L386.7,430.81 L387.2,431.42 L387.7,431.99 L388.2,432.51 L388.7,432.99 L389.2,433.44 L389.7,433.85 L390.2,434.24 L390.7,434.60 L391.2,434.93 L391.7,435.24 L392.2,435.53 L392.7,435.79 L393.2,436.03 L393.7,436.24 L394.2,436.44 L394.7,436.61 L395.2,436.77 L395.7,436.91 L396.2,437.03 L396.7,437.14 L397.2,437.23 L397.7,437.30 L398.2,437.35 L398.7,437.39 L399.2,437.40 L399.7,437.40 L400.2,437.31 L400.7,437.13 L401.2,436.87 L401.7,436.55 L402.2,436.19 L402.7,435.81 L403.2,435.43 L403.7,435.07 L404.2,434.78 L404.7,434.58 L405.2,434.50 L405.7,434.55 L406.2,434.72 L406.7,434.99 L407.2,435.33 L407.7,435.71 L408.2,436.12 L408.7,436.54 L409.2,436.93 L409.7,437.29 L410.2,437.60 L410.7,437.86 L411.2,438.06 L411.7,438.25 L412.2,438.42 L412.7,438.57 L413.2,438.70 L413.7,438.82 L414.2,438.92 L414.7,439.00 L415.2,439.05 L415.7,439.09 L416.2,439.11 L416.7,439.11 L417.2,439.09 L417.7,439.07 L418.2,439.03 L418.7,438.98 L419.2,438.92 L419.7,438.85 L420.2,438.76 L420.7,438.60 L421.2,438.38 L421.7,438.12 L422.2,437.86 L422.7,437.62 L423.2,437.43 L423.7,437.24 L424.2,437.05 L424.7,436.85 L425.2,436.65 L425.7,436.45 L426.2,436.25 L426.7,436.05 L427.2,435.85 L427.7,435.66 L428.2,435.47 L428.7,435.30 L429.2,435.14 L429.7,434.98 L430.2,434.86 L430.7,434.84 L431.2,434.93 L431.7,435.08 L432.2,435.28 L432.7,435.48 L433.2,435.65 L433.7,435.77 L434.2,435.81 L434.7,435.85 L435.2,435.87 L435.7,435.86 L436.2,435.77 L436.7,435.58 L437.2,435.26 L437.7,434.88 L438.2,434.48 L438.7,434.03 L439.2,433.56 L439.7,433.04 L440.2,432.48 L440.7,431.88 L441.2,431.24 L441.7,430.54 L442.2,429.79 L442.7,428.98 L443.2,428.09 L443.7,427.12 L444.2,426.01 L444.7,424.28 L445.2,422.05 L445.7,419.58 L446.2,417.15 L446.7,415.02 L447.2,413.40 L447.7,411.94 L448.2,410.49 L448.7,409.07 L449.2,407.67 L449.7,406.30 L450.2,405.00 L450.7,403.99 L451.2,403.29 L451.7,402.85 L452.2,402.63 L452.7,402.58 L453.2,402.63 L453.7,402.69 L454.2,402.71 L454.7,402.74 L455.2,402.80 L455.7,402.90 L456.2,403.07 L456.7,403.33 L457.2,403.67 L457.7,404.15 L458.2,404.76 L458.7,405.39 L459.2,405.95 L459.7,406.38 L460.2,406.65 L460.7,406.69 L461.2,406.47 L461.7,405.97 L462.2,405.26 L462.7,404.35 L463.2,403.25 L463.7,401.97 L464.2,400.54 L464.7,398.98 L465.2,397.34 L465.7,395.65 L466.2,394.00 L466.7,392.46 L467.2,391.16 L467.7,390.17 L468.2,389.60 L468.7,389.51 L469.2,389.98 L469.7,390.97 L470.2,392.42 L470.7,394.25 L471.2,396.35 L471.7,398.61 L472.2,400.92 L472.7,403.20 L473.2,405.40 L473.7,407.51 L474.2,409.51 L474.7,411.40 L475.2,413.20 L475.7,414.91 L476.2,416.50 L476.7,417.95 L477.2,419.28 L477.7,420.50 L478.2,421.62 L478.7,422.65 L479.2,423.60 L479.7,424.49 L480.2,425.33 L480.7,426.15 L481.2,426.95 L481.7,427.73 L482.2,428.49 L482.7,429.22 L483.2,429.91 L483.7,430.56 L484.2,431.16 L484.7,431.70 L485.2,432.19 L485.7,432.65 L486.2,433.09 L486.7,433.51 L487.2,433.90 L487.7,434.26 L488.2,434.58 L488.7,434.86 L489.2,435.09 L489.7,435.27 L490.2,435.38 L490.7,435.41 L491.2,435.31 L491.7,435.11 L492.2,434.83 L492.7,434.49 L493.2,434.13 L493.7,433.77 L494.2,433.43 L494.7,433.14 L495.2,432.91 L495.7,432.69 L496.2,432.44 L496.7,432.17 L497.2,431.89 L497.7,431.63 L498.2,431.39 L498.7,431.20 L499.2,431.09 L499.7,431.07 L500.2,431.14 L500.7,431.28 L501.2,431.48 L501.7,431.71 L502.2,431.93 L502.7,432.14 L503.2,432.33 L503.7,432.47 L504.2,432.58 L504.7,432.64 L505.2,432.63 L505.7,432.56 L506.2,432.46 L506.7,432.33 L507.2,432.19 L507.7,432.07 L508.2,431.96 L508.7,431.91 L509.2,431.89 L509.7,431.89 L510.2,431.88 L510.7,431.86 L511.2,431.80 L511.7,431.68 L512.2,431.49 L512.7,431.20 L513.2,430.81 L513.7,430.33 L514.2,429.78 L514.7,429.16 L515.2,428.51 L515.7,427.82 L516.2,427.12 L516.7,426.42 L517.2,425.72 L517.7,425.00 L518.2,424.23 L518.7,423.42 L519.2,422.56 L519.7,421.66 L520.2,420.72 L520.7,419.73 L521.2,418.71 L521.7,417.65 L522.2,416.57 L522.7,415.58 L523.2,414.66 L523.7,413.80 L524.2,412.97 L524.7,412.16 L525.2,411.35 L525.7,410.51 L526.2,409.65 L526.7,408.77 L527.2,407.94 L527.7,407.21 L528.2,406.65 L528.7,406.31 L529.2,406.24 L529.7,406.47 L530.2,406.92 L530.7,407.56 L531.2,408.37 L531.7,409.30 L532.2,410.31 L532.7,411.36 L533.2,412.43 L533.7,413.50 L534.2,414.56 L534.7,415.62 L535.2,416.64 L535.7,417.63 L536.2,418.58 L536.7,419.48 L537.2,420.34 L537.7,421.15 L538.2,421.91 L538.7,422.61 L539.2,423.24 L539.7,423.79 L540.2,424.26 L540.7,424.64 L541.2,424.91 L541.7,425.07 L542.2,425.05 L542.7,424.64 L543.2,423.94 L543.7,423.07 L544.2,422.18 L544.7,421.38 L545.2,420.79 L545.7,420.34 L546.2,419.96 L546.7,419.62 L547.2,419.29 L547.7,418.98 L548.2,418.66 L548.7,418.40 L549.2,418.33 L549.7,418.45 L550.2,418.73 L550.7,419.15 L551.2,419.62 L551.7,420.11 L552.2,420.55 L552.7,420.92 L553.2,421.17 L553.7,421.27 L554.2,421.20 L554.7,420.95 L555.2,420.54 L555.7,419.98 L556.2,419.28 L556.7,418.50 L557.2,417.67 L557.7,416.91 L558.2,416.26 L558.7,415.79 L559.2,415.55 L559.7,415.56 L560.2,415.80 L560.7,416.24 L561.2,416.84 L561.7,417.49 L562.2,418.07 L562.7,418.50 L563.2,418.70 L563.7,418.60 L564.2,418.04 L564.7,416.98 L565.2,415.57 L565.7,413.98 L566.2,412.33 L566.7,410.48 L567.2,408.36 L567.7,406.01 L568.2,403.52 L568.7,401.00 L569.2,398.60 L569.7,396.61 L570.2,395.32 L570.7,394.95 L571.2,395.62 L571.7,397.17 L572.2,399.44 L572.7,402.18 L573.2,405.17 L573.7,408.25 L574.2,411.56 L574.7,414.94 L575.2,418.15 L575.7,421.00 L576.2,423.32 L576.7,425.06 L577.2,426.47 L577.7,427.59 L578.2,428.48 L578.7,429.19 L579.2,429.77 L579.7,430.26 L580.2,430.73 L580.7,431.20 L581.2,431.71 L581.7,432.18 L582.2,432.60 L582.7,432.97 L583.2,433.31 L583.7,433.61 L584.2,433.88 L584.7,434.12 L585.2,434.35 L585.7,434.55 L586.2,434.73 L586.7,434.90 L587.2,435.06 L587.7,435.21 L588.2,435.36 L588.7,435.51 L589.2,435.64 L589.7,435.77 L590.2,435.89 L590.7,436.00 L591.2,436.10 L591.7,436.18 L592.2,436.25 L592.7,436.30 L593.2,436.33 L593.7,436.34 L594.2,436.32 L594.7,436.28 L595.2,436.21 L595.7,436.11 L596.2,435.99 L596.7,435.84 L597.2,435.68 L597.7,435.50 L598.2,435.30 L598.7,435.09 L599.2,434.87 L599.7,434.64 L600.2,434.40 L600.7,434.14 L601.2,433.85 L601.7,433.52 L602.2,433.17 L602.7,432.77 L603.2,432.33 L603.7,431.85 L604.2,431.31 L604.7,430.71 L605.2,430.04 L605.7,429.30 L606.2,428.51 L606.7,427.68 L607.2,426.79 L607.7,425.81 L608.2,424.75 L608.7,423.57 L609.2,422.28 L609.7,420.88 L610.2,419.39 L610.7,417.85 L611.2,416.33 L611.7,414.90 L612.2,413.66 L612.7,412.70 L613.2,412.07 L613.7,411.82 L614.2,411.96 L614.7,412.45 L615.2,413.23 L615.7,414.20 L616.2,415.27 L616.7,416.36 L617.2,417.41 L617.7,418.39 L618.2,419.26 L618.7,420.00 L619.2,420.61 L619.7,421.07 L620.2,421.39 L620.7,421.60 L621.2,421.69 L621.7,421.71 L622.2,421.65 L622.7,421.56 L623.2,421.45 L623.7,421.37 L624.2,421.34 L624.7,421.40 L625.2,421.54 L625.7,421.74 L626.2,422.02 L626.7,422.37 L627.2,422.81" stroke="#0000ff"/>
<path d="M82.2,442.30 L82.7,442.30 L83.2,442.30 L83.7,442.30 L84.2,442.30 L84.7,442.29 L85.2,442.29 L85.7,442.29 L86.2,442.29 L86.7,442.29 L87.2,442.29 L87.7,442.29 L88.2,442.29 L88.7,442.29 L89.2,442.28 L89.7,442.28 L90.2,442.28 L90.7,442.28 L91.2,442.28 L91.7,442.28 L92.2,442.28 L92.7,442.28 L93.2,442.28 L93.7,442.28 L94.2,442.28 L94.7,442.28 L95.2,442.28 L95.7,442.28 L96.2,442.27 L96.7,442.27 L97.2,442.27 L97.7,442.27 L98.2,442.27 L98.7,442.27 L99.2,442.27 L99.7,442.27 L100.2,442.27 L100.7,442.27 L101.2,442.27 L101.7,442.27 L102.2,442.27 L102.7,442.27 L103.2,442.27 L103.7,442.27 L104.2,442.27 L104.7,442.27 L105.2,442.27 L105.7,442.27 L106.2,442.27 L106.7,442.26 L107.2,442.26 L107.7,442.26 L108.2,442.26 L108.7,442.26 L109.2,442.26 L109.7,442.26 L110.2,442.26 L110.7,442.26 L111.2,442.26 L111.7,442.26 L112.2,442.26 L112.7,442.26 L113.2,442.26 L113.7,442.26 L114.2,442.26 L114.7,442.26 L115.2,442.26 L115.7,442.26 L116.2,442.25 L116.7,442.25 L117.2,442.25 L117.7,442.25 L118.2,442.25 L118.7,442.25 L119.2,442.25 L119.7,442.25 L120.2,442.24 L120.7,442.24 L121.2,442.24 L121.7,442.24 L122.2,442.24 L122.7,442.24 L123.2,442.23 L123.7,442.23 L124.2,442.23 L124.7,442.23 L125.2,442.22 L125.7,442.22 L126.2,442.22 L126.7,442.21 L127.2,442.21 L127.7,442.21 L128.2,442.20 L128.7,442.20 L129.2,442.19 L129.7,442.19 L130.2,442.18 L130.7,442.18 L131.2,442.17 L131.7,442.16 L132.2,442.15 L132.7,442.15 L133.2,442.14 L133.7,442.13 L134.2,442.12 L134.7,442.11 L135.2,442.10 L135.7,442.08 L136.2,442.07 L136.7,442.06 L137.2,442.05 L137.7,442.03 L138.2,442.02 L138.7,442.00 L139.2,441.99 L139.7,441.97 L140.2,441.95 L140.7,441.93 L141.2,441.91 L141.7,441.88 L142.2,441.85 L142.7,441.82 L143.2,441.79 L143.7,441.75 L144.2,441.72 L144.7,441.68 L145.2,441.64 L145.7,441.59 L146.2,441.54 L146.7,441.47 L147.2,441.38 L147.7,441.28 L148.2,441.15 L148.7,441.00 L149.2,440.82 L149.7,440.56 L150.2,440.23 L150.7,439.84 L151.2,439.40 L151.7,438.91 L152.2,438.40 L152.7,437.83 L153.2,437.20 L153.7,436.53 L154.2,435.85 L154.7,435.20 L155.2,434.60 L155.7,434.06 L156.2,433.63 L156.7,433.35 L157.2,433.26 L157.7,433.37 L158.2,433.68 L158.7,434.16 L159.2,434.74 L159.7,435.38 L160.2,436.03 L160.7,436.72 L161.2,437.42 L161.7,438.09 L162.2,438.68 L162.7,439.15 L163.2,439.49 L163.7,439.78 L164.2,440.03 L164.7,440.25 L165.2,440.44 L165.7,440.62 L166.2,440.77 L166.7,440.90 L167.2,441.02 L167.7,441.11 L168.2,441.20 L168.7,441.27 L169.2,441.32 L169.7,441.37 L170.2,441.42 L170.7,441.45 L171.2,441.49 L171.7,441.52 L172.2,441.55 L172.7,441.58 L173.2,441.61 L173.7,441.64 L174.2,441.67 L174.7,441.70 L175.2,441.73 L175.7,441.75 L176.2,441.77 L176.7,441.79 L177.2,441.82 L177.7,441.84 L178.2,441.85 L178.7,441.87 L179.2,441.89 L179.7,441.90 L180.2,441.92 L180.7,441.93 L181.2,441.94 L181.7,441.95 L182.2,441.96 L182.7,441.97 L183.2,441.98 L183.7,441.99 L184.2,441.99 L184.7,442.00 L185.2,442.00 L185.7,442.00 L186.2,442.01 L186.7,442.01 L187.2,442.01 L187.7,442.01 L188.2,442.01 L188.7,442.01 L189.2,442.01 L189.7,442.01 L190.2,442.01 L190.7,442.01 L191.2,442.01 L191.7,442.00 L192.2,442.00 L192.7,442.00 L193.2,442.00 L193.7,441.99 L194.2,441.99 L194.7,441.99 L195.2,441.99 L195.7,441.98 L196.2,441.98 L196.7,441.97 L197.2,441.97 L197.7,441.97 L198.2,441.96 L198.7,441.96 L199.2,441.95 L199.7,441.95 L200.2,441.94 L200.7,441.94 L201.2,441.93 L201.7,441.93 L202.2,441.92 L202.7,441.91 L203.2,441.91 L203.7,441.90 L204.2,441.89 L204.7,441.89 L205.2,441.88 L205.7,441.87 L206.2,441.87 L206.7,441.86 L207.2,441.85 L207.7,441.84 L208.2,441.84 L208.7,441.83 L209.2,441.82 L209.7,441.81 L210.2,441.80 L210.7,441.80 L211.2,441.79 L211.7,441.78 L212.2,441.77 L212.7,441.76 L213.2,441.75 L213.7,441.74 L214.2,441.73 L214.7,441.72 L215.2,441.71 L215.7,441.70 L216.2,441.69 L216.7,441.68 L217.2,441.67 L217.7,441.65 L218.2,441.64 L218.7,441.63 L219.2,441.62 L219.7,441.61 L220.2,441.60 L220.7,441.58 L221.2,441.57 L221.7,441.56 L222.2,441.54 L222.7,441.53 L223.2,441.51 L223.7,441.50 L224.2,441.49 L224.7,441.47 L225.2,441.46 L225.7,441.44 L226.2,441.42 L226.7,441.41 L227.2,441.39 L227.7,441.37 L228.2,441.36 L228.7,441.34 L229.2,441.32 L229.7,441.30 L230.2,441.28 L230.7,441.26 L231.2,441.24 L231.7,441.22 L232.2,441.20 L232.7,441.18 L233.2,441.16 L233.7,441.14 L234.2,441.11 L234.7,441.09 L235.2,441.07 L235.7,441.04 L236.2,441.02 L236.7,440.99 L237.2,440.96 L237.7,440.94 L238.2,440.91 L238.7,440.88 L239.2,440.85 L239.7,440.82 L240.2,440.79 L240.7,440.75 L241.2,440.72 L241.7,440.68 L242.2,440.64 L242.7,440.60 L243.2,440.55 L243.7,440.51 L244.2,440.46 L244.7,440.41 L245.2,440.36 L245.7,440.31 L246.2,440.26 L246.7,440.20 L247.2,440.15 L247.7,440.09 L248.2,440.03 L248.7,439.97 L249.2,439.91 L249.7,439.85 L250.2,439.79 L250.7,439.73 L251.2,439.66 L251.7,439.60 L252.2,439.54 L252.7,439.48 L253.2,439.42 L253.7,439.37 L254.2,439.31 L254.7,439.26 L255.2,439.21 L255.7,439.15 L256.2,439.10 L256.7,439.04 L257.2,438.99 L257.7,438.93 L258.2,438.86 L258.7,438.80 L259.2,438.73 L259.7,438.65 L260.2,438.57 L260.7,438.48 L261.2,438.39 L261.7,438.29 L262.2,438.18 L262.7,438.06 L263.2,437.93 L263.7,437.79 L264.2,437.63 L264.7,437.47 L265.2,437.30 L265.7,437.11 L266.2,436.91 L266.7,436.71 L267.2,436.49 L267.7,436.26 L268.2,436.02 L268.7,435.76 L269.2,435.50 L269.7,435.23 L270.2,434.96 L270.7,434.68 L271.2,434.39 L271.7,434.09 L272.2,433.77 L272.7,433.42 L273.2,433.05 L273.7,432.65 L274.2,432.21 L274.7,431.72 L275.2,431.18 L275.7,430.60 L276.2,429.97 L276.7,429.29 L277.2,428.54 L277.7,427.72 L278.2,426.80 L278.7,425.78 L279.2,424.63 L279.7,423.35 L280.2,421.94 L280.7,420.39 L281.2,418.71 L281.7,416.94 L282.2,415.19 L282.7,413.29 L283.2,411.02 L283.7,408.16 L284.2,404.24 L284.7,399.15 L285.2,393.66 L285.7,387.19 L286.2,378.76 L286.7,370.07 L287.2,363.23 L287.7,357.24 L288.2,351.12 L288.7,345.02 L289.2,339.13 L289.7,332.90 L290.2,326.00 L290.7,320.63 L291.2,319.68 L291.7,325.74 L292.2,335.60 L292.7,345.49 L293.2,351.65 L293.7,355.77 L294.2,359.67 L294.7,363.30 L295.2,366.65 L295.7,369.76 L296.2,372.72 L296.7,375.31 L297.2,376.54 L297.7,377.35 L298.2,378.91 L298.7,382.16 L299.2,385.58 L299.7,388.71 L300.2,391.58 L300.7,394.21 L301.2,396.64 L301.7,399.32 L302.2,402.92 L302.7,406.98 L303.2,410.99 L303.7,414.47 L304.2,417.02 L304.7,419.16 L305.2,421.09 L305.7,422.81 L306.2,424.31 L306.7,425.60 L307.2,426.74 L307.7,427.78 L308.2,428.75 L308.7,429.63 L309.2,430.42 L309.7,431.13 L310.2,431.76 L310.7,432.30 L311.2,432.77 L311.7,433.21 L312.2,433.62 L312.7,433.99 L313.2,434.34 L313.7,434.67 L314.2,434.97 L314.7,435.25 L315.2,435.51 L315.7,435.75 L316.2,435.97 L316.7,436.17 L317.2,436.36 L317.7,436.53 L318.2,436.69 L318.7,436.82 L319.2,436.93 L319.7,437.03 L320.2,437.11 L320.7,437.18 L321.2,437.24 L321.7,437.28 L322.2,437.31 L322.7,437.33 L323.2,437.34 L323.7,437.34 L324.2,437.33 L324.7,437.31 L325.2,437.29 L325.7,437.26 L326.2,437.23 L326.7,437.19 L327.2,437.15 L327.7,437.11 L328.2,437.06 L328.7,437.00 L329.2,436.93 L329.7,436.84 L330.2,436.75 L330.7,436.65 L331.2,436.54 L331.7,436.43 L332.2,436.31 L332.7,436.18 L333.2,436.06 L333.7,435.92 L334.2,435.79 L334.7,435.65 L335.2,435.51 L335.7,435.37 L336.2,435.23 L336.7,435.09 L337.2,434.94 L337.7,434.79 L338.2,434.64 L338.7,434.48 L339.2,434.30 L339.7,434.11 L340.2,433.91 L340.7,433.69 L341.2,433.44 L341.7,433.18 L342.2,432.88 L342.7,432.56 L343.2,432.20 L343.7,431.80 L344.2,431.36 L344.7,430.87 L345.2,430.32 L345.7,429.70 L346.2,429.01 L346.7,428.24 L347.2,427.35 L347.7,426.36 L348.2,425.24 L348.7,423.99 L349.2,422.59 L349.7,421.03 L350.2,419.27 L350.7,417.25 L351.2,414.96 L351.7,412.43 L352.2,409.68 L352.7,406.77 L353.2,403.78 L353.7,400.84 L354.2,398.08 L354.7,395.66 L355.2,393.71 L355.7,392.34 L356.2,391.62 L356.7,391.50 L357.2,391.91 L357.7,392.71 L358.2,393.69 L358.7,394.65 L359.2,395.40 L359.7,395.79 L360.2,395.51 L360.7,394.59 L361.2,393.14 L361.7,391.31 L362.2,389.26 L362.7,387.17 L363.2,385.09 L363.7,383.04 L364.2,381.06 L364.7,379.23 L365.2,377.67 L365.7,376.49 L366.2,375.77 L366.7,375.61 L367.2,376.11 L367.7,377.29 L368.2,379.09 L368.7,381.40 L369.2,384.12 L369.7,386.89 L370.2,389.54 L370.7,391.98 L371.2,394.15 L371.7,396.02 L372.2,397.64 L372.7,399.42 L373.2,401.25 L373.7,402.90 L374.2,404.12 L374.7,404.68 L375.2,404.39 L375.7,403.62 L376.2,402.48 L376.7,400.94 L377.2,399.00 L377.7,396.64 L378.2,393.77 L378.7,390.02 L379.2,385.46 L379.7,380.25 L380.2,374.57 L380.7,368.62 L381.2,362.56 L381.7,356.16 L382.2,349.42 L382.7,342.54 L383.2,335.81 L383.7,329.61 L384.2,324.41 L384.7,320.69 L385.2,318.84 L385.7,319.09 L386.2,321.48 L386.7,325.80 L387.2,331.67 L387.7,338.56 L388.2,346.00 L388.7,353.55 L389.2,360.90 L389.7,367.85 L390.2,374.28 L390.7,380.13 L391.2,385.40 L391.7,390.10 L392.2,394.27 L392.7,397.94 L393.2,401.17 L393.7,404.00 L394.2,406.01 L394.7,407.50 L395.2,409.46 L395.7,411.67 L396.2,413.87 L396.7,415.94 L397.2,417.78 L397.7,419.27 L398.2,420.54 L398.7,421.68 L399.2,422.71 L399.7,423.62 L400.2,424.42 L400.7,425.12 L401.2,425.71 L401.7,426.20 L402.2,426.60 L402.7,426.92 L403.2,427.17 L403.7,427.36 L404.2,427.50 L404.7,427.60 L405.2,427.66 L405.7,427.69 L406.2,427.70 L406.7,427.69 L407.2,427.65 L407.7,427.58 L408.2,427.44 L408.7,427.25 L409.2,426.96 L409.7,426.58 L410.2,426.09 L410.7,425.47 L411.2,424.73 L411.7,423.89 L412.2,422.95 L412.7,421.95 L413.2,420.91 L413.7,419.90 L414.2,418.98 L414.7,418.24 L415.2,417.76 L415.7,417.59 L416.2,417.75 L416.7,418.21 L417.2,418.93 L417.7,419.85 L418.2,420.92 L418.7,422.13 L419.2,423.41 L419.7,424.67 L420.2,425.82 L420.7,426.81 L421.2,427.58 L421.7,428.17 L422.2,428.60 L422.7,428.93 L423.2,429.18 L423.7,429.38 L424.2,429.58 L424.7,429.78 L425.2,429.96 L425.7,430.10 L426.2,430.21 L426.7,430.28 L427.2,430.32 L427.7,430.34 L428.2,430.34 L428.7,430.31 L429.2,430.30 L429.7,430.39 L430.2,430.52 L430.7,430.68 L431.2,430.80 L431.7,430.87 L432.2,430.82 L432.7,430.68 L433.2,430.51 L433.7,430.30 L434.2,430.05 L434.7,429.77 L435.2,429.45 L435.7,429.08 L436.2,428.59 L436.7,427.85 L437.2,426.93 L437.7,425.87 L438.2,424.74 L438.7,423.60 L439.2,422.50 L439.7,421.37 L440.2,420.16 L440.7,418.91 L441.2,417.71 L441.7,416.60 L442.2,415.69 L442.7,415.00 L443.2,414.44 L443.7,413.89 L444.2,413.28 L444.7,413.00 L445.2,412.90 L445.7,412.46 L446.2,411.20 L446.7,409.10 L447.2,406.58 L447.7,403.77 L448.2,400.82 L448.7,397.88 L449.2,394.95 L449.7,391.92 L450.2,388.91 L450.7,386.05 L451.2,383.50 L451.7,381.43 L452.2,379.92 L452.7,378.88 L453.2,378.15 L453.7,377.60 L454.2,377.12 L454.7,376.98 L455.2,377.25 L455.7,377.91 L456.2,378.94 L456.7,380.29 L457.2,381.73 L457.7,383.21 L458.2,384.76 L458.7,386.44 L459.2,388.29 L459.7,390.34 L460.2,392.43 L460.7,394.47 L461.2,396.43 L461.7,398.29 L462.2,400.02 L462.7,401.60 L463.2,403.12 L463.7,404.59 L464.2,405.91 L464.7,406.96 L465.2,407.62 L465.7,407.79 L466.2,407.52 L466.7,406.97 L467.2,406.34 L467.7,405.80 L468.2,405.30 L468.7,404.83 L469.2,404.46 L469.7,404.23 L470.2,404.20 L470.7,404.34 L471.2,404.78 L471.7,405.59 L472.2,406.80 L472.7,408.27 L473.2,409.81 L473.7,411.36 L474.2,412.86 L474.7,414.32 L475.2,415.75 L475.7,417.20 L476.2,418.61 L476.7,419.96 L477.2,421.19 L477.7,422.27 L478.2,423.15 L478.7,423.85 L479.2,424.46 L479.7,424.98 L480.2,425.39 L480.7,425.69 L481.2,425.86 L481.7,425.90 L482.2,425.82 L482.7,425.63 L483.2,425.36 L483.7,424.99 L484.2,424.52 L484.7,423.96 L485.2,423.30 L485.7,422.45 L486.2,421.34 L486.7,420.06 L487.2,418.67 L487.7,417.24 L488.2,415.85 L488.7,414.60 L489.2,413.60 L489.7,412.84 L490.2,412.25 L490.7,411.76 L491.2,411.30 L491.7,410.90 L492.2,410.77 L492.7,410.92 L493.2,411.34 L493.7,411.96 L494.2,412.74 L494.7,413.62 L495.2,414.49 L495.7,415.26 L496.2,415.91 L496.7,416.45 L497.2,416.89 L497.7,417.25 L498.2,417.56 L498.7,417.86 L499.2,418.16 L499.7,418.48 L500.2,418.78 L500.7,419.05 L501.2,419.25 L501.7,419.37 L502.2,419.39 L502.7,419.27 L503.2,419.05 L503.7,418.73 L504.2,418.30 L504.7,417.73 L505.2,416.98 L505.7,416.10 L506.2,415.06 L506.7,413.83 L507.2,412.40 L507.7,410.69 L508.2,408.71 L508.7,406.45 L509.2,403.90 L509.7,401.07 L510.2,397.94 L510.7,394.51 L511.2,390.78 L511.7,386.77 L512.2,382.48 L512.7,377.90 L513.2,373.06 L513.7,368.04 L514.2,363.00 L514.7,358.26 L515.2,354.14 L515.7,350.93 L516.2,348.85 L516.7,348.02 L517.2,348.30 L517.7,349.40 L518.2,351.18 L518.7,353.46 L519.2,356.08 L519.7,358.83 L520.2,361.42 L520.7,363.56 L521.2,365.04 L521.7,365.68 L522.2,365.39 L522.7,364.26 L523.2,362.45 L523.7,360.14 L524.2,357.56 L524.7,354.96 L525.2,352.38 L525.7,350.00 L526.2,348.08 L526.7,346.89 L527.2,346.60 L527.7,347.40 L528.2,349.30 L528.7,352.14 L529.2,355.66 L529.7,359.58 L530.2,363.62 L530.7,367.67 L531.2,371.60 L531.7,375.29 L532.2,378.69 L532.7,381.74 L533.2,384.44 L533.7,386.77 L534.2,388.50 L534.7,389.69 L535.2,390.47 L535.7,390.98 L536.2,391.35 L536.7,391.72 L537.2,392.24 L537.7,393.03 L538.2,394.01 L538.7,395.04 L539.2,395.98 L539.7,396.70 L540.2,397.06 L540.7,396.93 L541.2,396.49 L541.7,395.90 L542.2,395.23 L542.7,394.52 L543.2,393.86 L543.7,393.27 L544.2,392.71 L544.7,392.19 L545.2,391.77 L545.7,391.50 L546.2,391.45 L546.7,391.66 L547.2,392.11 L547.7,392.78 L548.2,393.61 L548.7,394.53 L549.2,395.50 L549.7,396.46 L550.2,397.34 L550.7,398.12 L551.2,398.82 L551.7,399.50 L552.2,400.18 L552.7,400.91 L553.2,401.74 L553.7,402.70 L554.2,403.90 L554.7,405.36 L555.2,406.98 L555.7,408.69 L556.2,410.41 L556.7,412.04 L557.2,413.50 L557.7,414.72 L558.2,415.64 L558.7,416.44 L559.2,417.19 L559.7,417.88 L560.2,418.51 L560.7,419.08 L561.2,419.60 L561.7,420.05 L562.2,420.44 L562.7,420.77 L563.2,421.04 L563.7,421.25 L564.2,421.40 L564.7,421.32 L565.2,420.88 L565.7,420.16 L566.2,419.22 L566.7,418.12 L567.2,416.93 L567.7,415.72 L568.2,414.52 L568.7,413.22 L569.2,411.79 L569.7,410.26 L570.2,408.62 L570.7,406.90 L571.2,404.96 L571.7,402.74 L572.2,400.32 L572.7,397.80 L573.2,395.26 L573.7,392.81 L574.2,390.53 L574.7,388.51 L575.2,386.96 L575.7,386.24 L576.2,386.09 L576.7,386.17 L577.2,386.14 L577.7,385.70 L578.2,384.50 L578.7,382.77 L579.2,380.92 L579.7,378.91 L580.2,376.76 L580.7,374.47 L581.2,372.04 L581.7,369.53 L582.2,366.94 L582.7,364.12 L583.2,361.31 L583.7,358.84 L584.2,357.02 L584.7,356.12 L585.2,356.40 L585.7,357.96 L586.2,360.60 L586.7,364.07 L587.2,368.10 L587.7,372.40 L588.2,376.77 L588.7,381.54 L589.2,386.44 L589.7,391.06 L590.2,395.02 L590.7,398.27 L591.2,401.34 L591.7,404.22 L592.2,406.91 L592.7,409.41 L593.2,411.71 L593.7,413.83 L594.2,415.77 L594.7,417.54 L595.2,419.15 L595.7,420.60 L596.2,421.90 L596.7,422.94 L597.2,423.63 L597.7,424.05 L598.2,424.24 L598.7,424.28 L599.2,424.23 L599.7,424.15 L600.2,424.09 L600.7,424.11 L601.2,424.11 L601.7,424.03 L602.2,423.87 L602.7,423.65 L603.2,423.36 L603.7,423.02 L604.2,422.63 L604.7,422.19 L605.2,421.69 L605.7,421.09 L606.2,420.34 L606.7,419.45 L607.2,418.38 L607.7,417.11 L608.2,415.63 L608.7,413.88 L609.2,411.82 L609.7,409.44 L610.2,406.72 L610.7,403.67 L611.2,400.27 L611.7,395.63 L612.2,390.30 L612.7,385.60 L613.2,381.83 L613.7,378.63 L614.2,376.31 L614.7,375.53 L615.2,377.35 L615.7,380.74 L616.2,384.39 L616.7,387.35 L617.2,390.67 L617.7,394.30 L618.2,398.04 L618.7,401.71 L619.2,404.62 L619.7,406.67 L620.2,408.10 L620.7,409.18 L621.2,410.20 L621.7,411.39 L622.2,412.46 L622.7,413.35 L623.2,414.12 L623.7,414.83 L624.2,415.52 L624.7,416.25 L625.2,417.00 L625.7,417.67 L626.2,418.30 L626.7,418.90 L627.2,419.52" stroke="#ff0000"/>
</g>
<rect x="82.2" y="303.8" width="545.4" height="138.5" fill="none" stroke="#000" stroke-width="1.6"/>
<path d="M81.4,442.3H628.4" stroke="#000" stroke-width="1.9" fill="none"/>
<path d="M127.65,303.8v4.3 M127.65,442.3v-4.3 M173.10,303.8v8.2 M173.10,442.3v-8.2 M218.55,303.8v4.3 M218.55,442.3v-4.3 M264.00,303.8v8.2 M264.00,442.3v-8.2 M309.45,303.8v4.3 M309.45,442.3v-4.3 M354.90,303.8v8.2 M354.90,442.3v-8.2 M400.35,303.8v4.3 M400.35,442.3v-4.3 M445.80,303.8v8.2 M445.80,442.3v-8.2 M491.25,303.8v4.3 M491.25,442.3v-4.3 M536.70,303.8v8.2 M536.70,442.3v-8.2 M582.15,303.8v4.3 M582.15,442.3v-4.3 M82.2,433.07h4.3 M627.6,433.07h-4.3 M82.2,423.83h4.3 M627.6,423.83h-4.3 M82.2,414.60h4.3 M627.6,414.60h-4.3 M82.2,405.37h4.3 M627.6,405.37h-4.3 M82.2,396.13h8.2 M627.6,396.13h-8.2 M82.2,386.90h4.3 M627.6,386.90h-4.3 M82.2,377.67h4.3 M627.6,377.67h-4.3 M82.2,368.44h4.3 M627.6,368.44h-4.3 M82.2,359.20h4.3 M627.6,359.20h-4.3 M82.2,349.97h8.2 M627.6,349.97h-8.2 M82.2,340.74h4.3 M627.6,340.74h-4.3 M82.2,331.50h4.3 M627.6,331.50h-4.3 M82.2,322.27h4.3 M627.6,322.27h-4.3 M82.2,313.04h4.3 M627.6,313.04h-4.3" stroke="#000" stroke-width="1.5" fill="none"/>

<g style="opacity:0.999" stroke="#000" stroke-width="0.3">
<text x="73.2" y="156.6" font-size="18.5" text-anchor="end" font-family="Liberation Sans, sans-serif">0.0</text>
<text x="73.2" y="110.4" font-size="18.5" text-anchor="end" font-family="Liberation Sans, sans-serif">0.5</text>
<path d="M763 0H583V1147Q518 1085 412.5 1023T223 930V1104Q373 1174.5 485 1275T644 1472H763Z" transform="translate(47.48,64.27) scale(0.00903,-0.00903)" fill="#000" stroke="#000" stroke-width="33"/>
<text x="73.2" y="64.3" font-size="18.5" text-anchor="end" font-family="Liberation Sans, sans-serif">.0</text>
<path d="M763 0H583V1147Q518 1085 412.5 1023T223 930V1104Q373 1174.5 485 1275T644 1472H763Z" transform="translate(47.48,18.11) scale(0.00903,-0.00903)" fill="#000" stroke="#000" stroke-width="33"/>
<text x="73.2" y="18.1" font-size="18.5" text-anchor="end" font-family="Liberation Sans, sans-serif">.5</text>
<text x="73.2" y="302.1" font-size="18.5" text-anchor="end" font-family="Liberation Sans, sans-serif">0.0</text>
<text x="73.2" y="255.9" font-size="18.5" text-anchor="end" font-family="Liberation Sans, sans-serif">0.5</text>
<path d="M763 0H583V1147Q518 1085 412.5 1023T223 930V1104Q373 1174.5 485 1275T644 1472H763Z" transform="translate(47.48,209.77) scale(0.00903,-0.00903)" fill="#000" stroke="#000" stroke-width="33"/>
<text x="73.2" y="209.8" font-size="18.5" text-anchor="end" font-family="Liberation Sans, sans-serif">.0</text>
<text x="73.2" y="447.6" font-size="18.5" text-anchor="end" font-family="Liberation Sans, sans-serif">0.0</text>
<text x="73.2" y="401.4" font-size="18.5" text-anchor="end" font-family="Liberation Sans, sans-serif">0.5</text>
<path d="M763 0H583V1147Q518 1085 412.5 1023T223 930V1104Q373 1174.5 485 1275T644 1472H763Z" transform="translate(47.48,355.27) scale(0.00903,-0.00903)" fill="#000" stroke="#000" stroke-width="33"/>
<text x="73.2" y="355.3" font-size="18.5" text-anchor="end" font-family="Liberation Sans, sans-serif">.0</text>
<text x="82.2" y="466.5" font-size="18.5" text-anchor="middle" font-family="Liberation Sans, sans-serif">0</text>
<path d="M763 0H583V1147Q518 1085 412.5 1023T223 930V1104Q373 1174.5 485 1275T644 1472H763Z" transform="translate(167.96,466.50) scale(0.00903,-0.00903)" fill="#000" stroke="#000" stroke-width="33"/>
<text x="264.0" y="466.5" font-size="18.5" text-anchor="middle" font-family="Liberation Sans, sans-serif">2</text>
<text x="354.9" y="466.5" font-size="18.5" text-anchor="middle" font-family="Liberation Sans, sans-serif">3</text>
<text x="445.8" y="466.5" font-size="18.5" text-anchor="middle" font-family="Liberation Sans, sans-serif">4</text>
<text x="536.7" y="466.5" font-size="18.5" text-anchor="middle" font-family="Liberation Sans, sans-serif">5</text>
<text x="627.6" y="466.5" font-size="18.5" text-anchor="middle" font-family="Liberation Sans, sans-serif">6</text>
<text x="354.9" y="505.8" font-size="28.2" text-anchor="middle" font-family="Liberation Sans, sans-serif">Energy [MeV]</text>
<g transform="translate(30.3,227.2) rotate(-90)">
<text x="-104.99" y="0" font-size="29.4" font-family="Liberation Sans, sans-serif">S</text>
<text x="-87.03" y="8.0" font-size="19.5" font-family="Liberation Sans, sans-serif" xml:space="preserve">E</text>
<path d="M763 0H583V1147Q518 1085 412.5 1023T223 930V1104Q373 1174.5 485 1275T644 1472H763Z" transform="translate(-73.98,8.00) scale(0.00952,-0.00952)" fill="#000" stroke="#000" stroke-width="32"/>
<text x="-63.18" y="0" font-size="28.2" font-family="Liberation Sans, sans-serif" xml:space="preserve"> [</text>
<text x="-46.76" y="0" font-size="28.2" font-family="Liberation Sans, sans-serif" xml:space="preserve">e</text>
<text x="-31.08" y="-12.3" font-size="19.5" font-family="Liberation Sans, sans-serif" xml:space="preserve">2</text>
<text x="-20.23" y="0" font-size="28.2" font-family="Liberation Sans, sans-serif" xml:space="preserve">fm</text>
<text x="11.10" y="-12.3" font-size="19.5" font-family="Liberation Sans, sans-serif" xml:space="preserve">2</text>
<text x="21.94" y="0" font-size="28.2" font-family="Liberation Sans, sans-serif" xml:space="preserve">MeV</text>
<text x="79.92" y="-12.3" font-size="19.5" font-family="Liberation Sans, sans-serif" xml:space="preserve">-</text>
<path d="M763 0H583V1147Q518 1085 412.5 1023T223 930V1104Q373 1174.5 485 1275T644 1472H763Z" transform="translate(86.41,-12.30) scale(0.00952,-0.00952)" fill="#000" stroke="#000" stroke-width="32"/>
<text x="97.25" y="0" font-size="28.2" font-family="Liberation Sans, sans-serif" xml:space="preserve">]</text>
</g>
<text x="600.5" y="41.1" font-size="19.6" text-anchor="middle" font-family="Liberation Sans, sans-serif">(a)</text>
<text x="600.5" y="186.6" font-size="19.6" text-anchor="middle" font-family="Liberation Sans, sans-serif">(b)</text>
<text x="600.5" y="332.1" font-size="19.6" text-anchor="middle" font-family="Liberation Sans, sans-serif">(c)</text>
<rect x="109.8" y="27.4" width="46" height="28.4" fill="#000" stroke="none"/>
<rect x="104.6" y="22.4" width="46" height="28.4" fill="#fff" stroke="#6e6e6e" stroke-width="1"/>
<text y="44.2" font-size="19" font-family="Liberation Sans, sans-serif"><tspan x="106.8" font-size="12.2" dy="-8.2">40</tspan><tspan x="121.8" dy="8.2">Mg</tspan></text>
<rect x="109.8" y="172.9" width="46" height="28.4" fill="#000" stroke="none"/>
<rect x="104.6" y="167.9" width="46" height="28.4" fill="#fff" stroke="#6e6e6e" stroke-width="1"/>
<text y="189.7" font-size="19" font-family="Liberation Sans, sans-serif"><tspan x="106.8" font-size="12.2" dy="-8.2">42</tspan><tspan x="121.8" dy="8.2">Mg</tspan></text>
<rect x="109.8" y="318.40000000000003" width="46" height="28.4" fill="#000" stroke="none"/>
<rect x="104.6" y="313.40000000000003" width="46" height="28.4" fill="#fff" stroke="#6e6e6e" stroke-width="1"/>
<text y="335.2" font-size="19" font-family="Liberation Sans, sans-serif"><tspan x="106.8" font-size="12.2" dy="-8.2">44</tspan><tspan x="121.8" dy="8.2">Mg</tspan></text>
<path d="M109.5,82.1H153.4" stroke="#0000ff" stroke-width="1.6"/>
<text y="88.3" font-size="17.5" font-family="Liberation Sans, sans-serif"><tspan x="158.5" font-style="italic">K</tspan><tspan x="171.3" font-style="italic" font-size="13.2" dy="-7">π</tspan><tspan x="179.8" dy="7.6">=</tspan><tspan x="190.9" dy="-0.6">0</tspan><tspan x="201.3" font-size="12" dy="-7.6">-</tspan></text>
<path d="M109.5,108.3H153.4" stroke="#ff0000" stroke-width="1.6"/>
<text y="114.5" font-size="17.5" font-family="Liberation Sans, sans-serif"><tspan x="158.5" font-style="italic">K</tspan><tspan x="171.3" font-style="italic" font-size="13.2" dy="-7">π</tspan><tspan x="179.8" dy="7.6">=</tspan><tspan dy="-0.6"></tspan><tspan x="201.3" font-size="12" dy="-7.6">-</tspan></text>
<path d="M763 0H583V1147Q518 1085 412.5 1023T223 930V1104Q373 1174.5 485 1275T644 1472H763Z" transform="translate(190.90,114.50) scale(0.00854,-0.00854)" fill="#000" stroke="#000" stroke-width="35"/>
</g>
</svg>
</body></html>
